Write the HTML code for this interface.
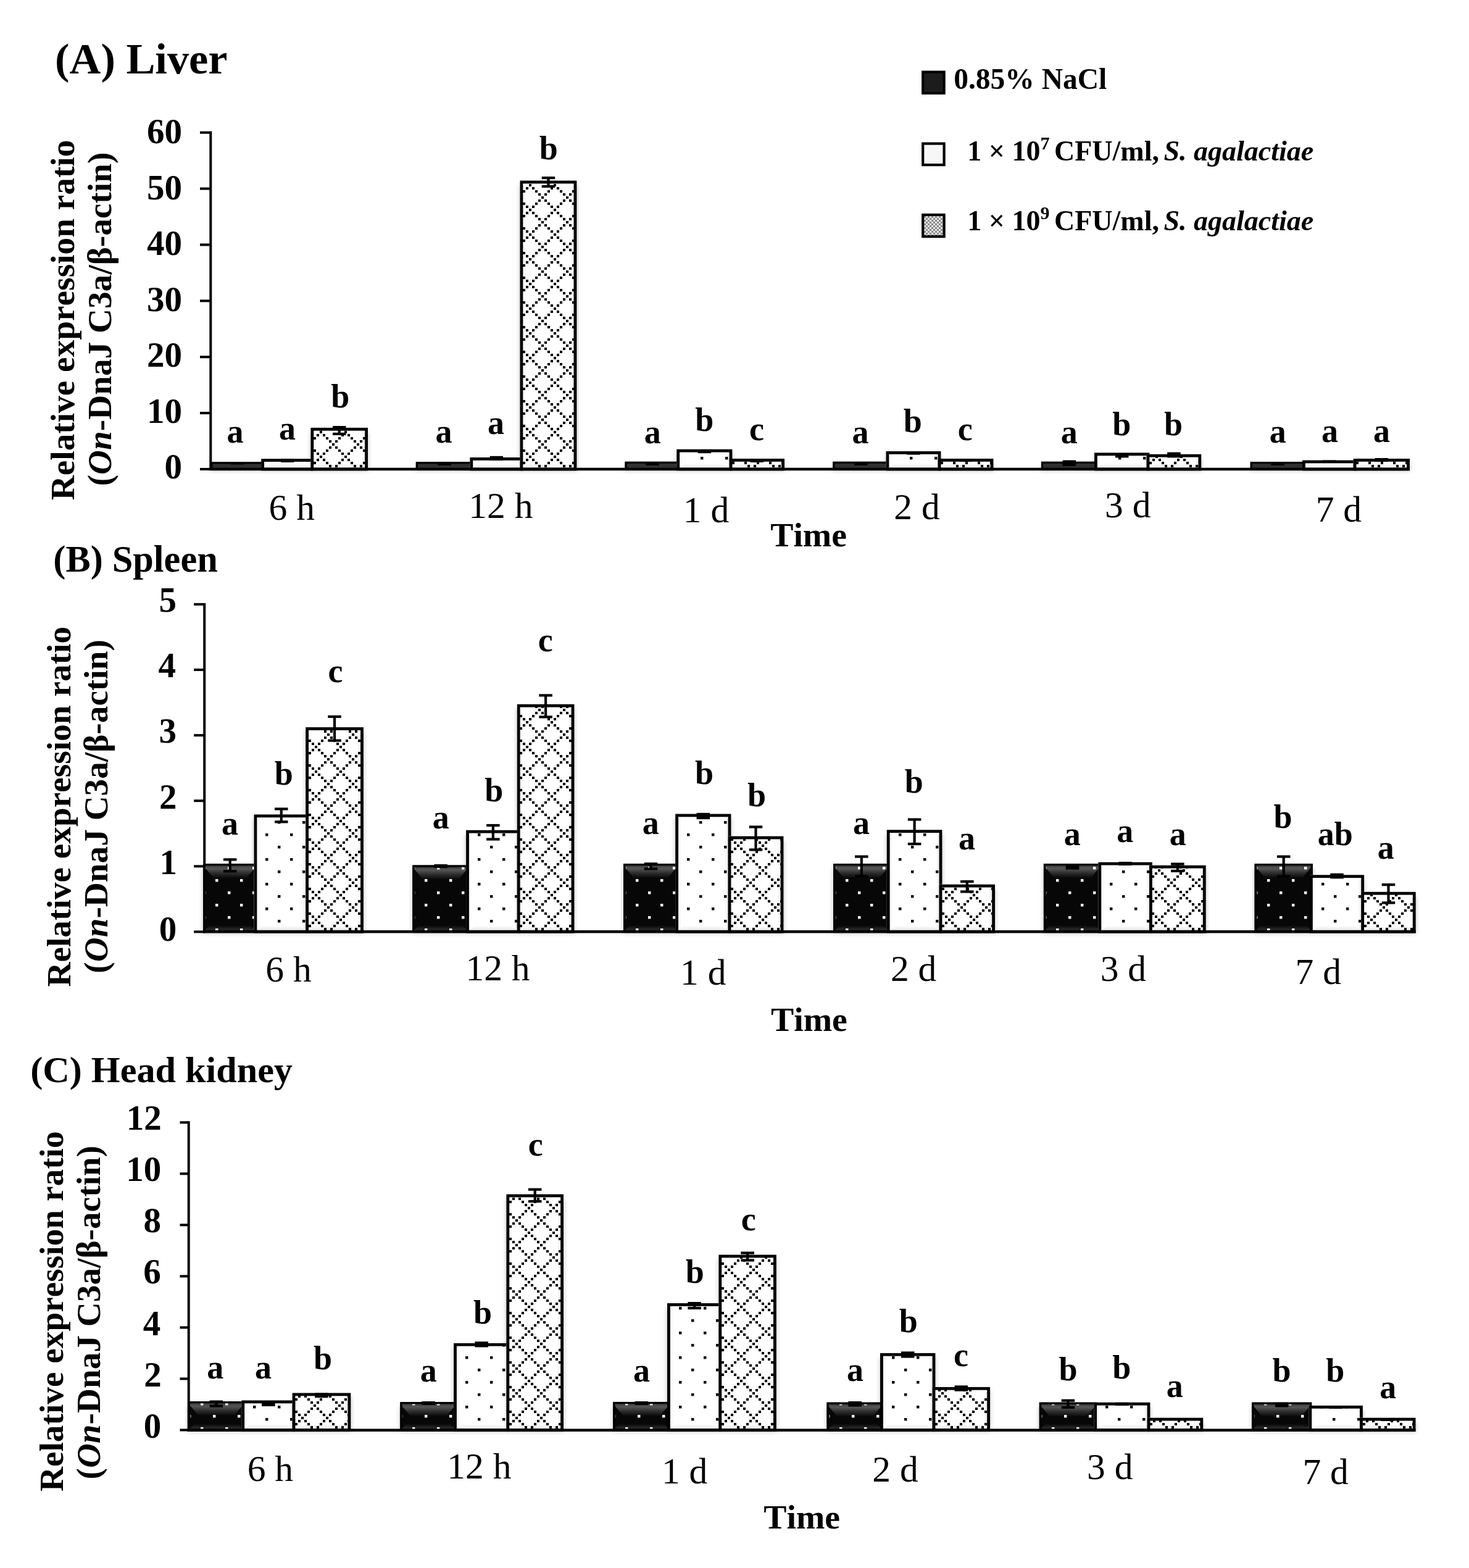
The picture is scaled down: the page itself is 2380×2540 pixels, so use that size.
<!DOCTYPE html>
<html><head><meta charset="utf-8"><title>Relative expression ratio of On-DnaJ C3a</title>
<style>html,body{margin:0;padding:0;background:#fff;}svg{display:block;}
text{font-family:'Liberation Serif','Times New Roman',serif;fill:#000;font-kerning:none;}</style></head>
<body><svg width="2380" height="2540" viewBox="0 0 2380 2540">
<defs><pattern id="p1" patternUnits="userSpaceOnUse" x="361" y="755" width="40" height="40"><rect x="0" y="0" width="4.4" height="4.4" fill="#fff"/><rect x="20" y="20" width="4.4" height="4.4" fill="#fff"/></pattern>
<pattern id="p2" patternUnits="userSpaceOnUse" x="442" y="760" width="40" height="40"><rect x="0" y="0" width="4.4" height="4.4" fill="#000"/><rect x="20" y="20" width="4.4" height="4.4" fill="#000"/></pattern>
<pattern id="p3" patternUnits="userSpaceOnUse" x="500" y="760" width="40" height="40"><path d="M33,33h4v4h-4zM33,3h4v4h-4zM-2,-2h4v4h-4zM-2,38h4v4h-4zM38,-2h4v4h-4zM38,38h4v4h-4zM-2,-2h4v4h-4zM-2,38h4v4h-4zM38,-2h4v4h-4zM38,38h4v4h-4zM3,3h4v4h-4zM3,33h4v4h-4zM8,8h4v4h-4zM8,28h4v4h-4zM13,13h4v4h-4zM13,23h4v4h-4zM18,18h4v4h-4zM23,13h4v4h-4zM23,23h4v4h-4zM28,8h4v4h-4zM28,28h4v4h-4zM33,3h4v4h-4zM33,33h4v4h-4zM-2,-2h4v4h-4zM-2,38h4v4h-4zM38,-2h4v4h-4zM38,38h4v4h-4zM-2,-2h4v4h-4zM-2,38h4v4h-4zM38,-2h4v4h-4zM38,38h4v4h-4zM3,33h4v4h-4zM3,3h4v4h-4z" fill="#000"/></pattern>
<pattern id="p4" patternUnits="userSpaceOnUse" x="694" y="755" width="40" height="40"><rect x="0" y="0" width="4.4" height="4.4" fill="#fff"/><rect x="20" y="20" width="4.4" height="4.4" fill="#fff"/></pattern>
<pattern id="p5" patternUnits="userSpaceOnUse" x="780" y="760" width="40" height="40"><rect x="0" y="0" width="4.4" height="4.4" fill="#000"/><rect x="20" y="20" width="4.4" height="4.4" fill="#000"/></pattern>
<pattern id="p6" patternUnits="userSpaceOnUse" x="839" y="760" width="40" height="40"><path d="M33,33h4v4h-4zM33,3h4v4h-4zM-2,-2h4v4h-4zM-2,38h4v4h-4zM38,-2h4v4h-4zM38,38h4v4h-4zM-2,-2h4v4h-4zM-2,38h4v4h-4zM38,-2h4v4h-4zM38,38h4v4h-4zM3,3h4v4h-4zM3,33h4v4h-4zM8,8h4v4h-4zM8,28h4v4h-4zM13,13h4v4h-4zM13,23h4v4h-4zM18,18h4v4h-4zM23,13h4v4h-4zM23,23h4v4h-4zM28,8h4v4h-4zM28,28h4v4h-4zM33,3h4v4h-4zM33,33h4v4h-4zM-2,-2h4v4h-4zM-2,38h4v4h-4zM38,-2h4v4h-4zM38,38h4v4h-4zM-2,-2h4v4h-4zM-2,38h4v4h-4zM38,-2h4v4h-4zM38,38h4v4h-4zM3,33h4v4h-4zM3,3h4v4h-4z" fill="#000"/></pattern>
<pattern id="p7" patternUnits="userSpaceOnUse" x="1032" y="755" width="40" height="40"><rect x="0" y="0" width="4.4" height="4.4" fill="#fff"/><rect x="20" y="20" width="4.4" height="4.4" fill="#fff"/></pattern>
<pattern id="p8" patternUnits="userSpaceOnUse" x="1115" y="760" width="40" height="40"><rect x="0" y="0" width="4.4" height="4.4" fill="#000"/><rect x="20" y="20" width="4.4" height="4.4" fill="#000"/></pattern>
<pattern id="p9" patternUnits="userSpaceOnUse" x="1178" y="760" width="40" height="40"><path d="M33,33h4v4h-4zM33,3h4v4h-4zM-2,-2h4v4h-4zM-2,38h4v4h-4zM38,-2h4v4h-4zM38,38h4v4h-4zM-2,-2h4v4h-4zM-2,38h4v4h-4zM38,-2h4v4h-4zM38,38h4v4h-4zM3,3h4v4h-4zM3,33h4v4h-4zM8,8h4v4h-4zM8,28h4v4h-4zM13,13h4v4h-4zM13,23h4v4h-4zM18,18h4v4h-4zM23,13h4v4h-4zM23,23h4v4h-4zM28,8h4v4h-4zM28,28h4v4h-4zM33,3h4v4h-4zM33,33h4v4h-4zM-2,-2h4v4h-4zM-2,38h4v4h-4zM38,-2h4v4h-4zM38,38h4v4h-4zM-2,-2h4v4h-4zM-2,38h4v4h-4zM38,-2h4v4h-4zM38,38h4v4h-4zM3,33h4v4h-4zM3,3h4v4h-4z" fill="#000"/></pattern>
<pattern id="p10" patternUnits="userSpaceOnUse" x="1369" y="755" width="40" height="40"><rect x="0" y="0" width="4.4" height="4.4" fill="#fff"/><rect x="20" y="20" width="4.4" height="4.4" fill="#fff"/></pattern>
<pattern id="p11" patternUnits="userSpaceOnUse" x="1454" y="760" width="40" height="40"><rect x="0" y="0" width="4.4" height="4.4" fill="#000"/><rect x="20" y="20" width="4.4" height="4.4" fill="#000"/></pattern>
<pattern id="p12" patternUnits="userSpaceOnUse" x="1516" y="760" width="40" height="40"><path d="M33,33h4v4h-4zM33,3h4v4h-4zM-2,-2h4v4h-4zM-2,38h4v4h-4zM38,-2h4v4h-4zM38,38h4v4h-4zM-2,-2h4v4h-4zM-2,38h4v4h-4zM38,-2h4v4h-4zM38,38h4v4h-4zM3,3h4v4h-4zM3,33h4v4h-4zM8,8h4v4h-4zM8,28h4v4h-4zM13,13h4v4h-4zM13,23h4v4h-4zM18,18h4v4h-4zM23,13h4v4h-4zM23,23h4v4h-4zM28,8h4v4h-4zM28,28h4v4h-4zM33,3h4v4h-4zM33,33h4v4h-4zM-2,-2h4v4h-4zM-2,38h4v4h-4zM38,-2h4v4h-4zM38,38h4v4h-4zM-2,-2h4v4h-4zM-2,38h4v4h-4zM38,-2h4v4h-4zM38,38h4v4h-4zM3,33h4v4h-4zM3,3h4v4h-4z" fill="#000"/></pattern>
<pattern id="p13" patternUnits="userSpaceOnUse" x="1707" y="755" width="40" height="40"><rect x="0" y="0" width="4.4" height="4.4" fill="#fff"/><rect x="20" y="20" width="4.4" height="4.4" fill="#fff"/></pattern>
<pattern id="p14" patternUnits="userSpaceOnUse" x="1792" y="760" width="40" height="40"><rect x="0" y="0" width="4.4" height="4.4" fill="#000"/><rect x="20" y="20" width="4.4" height="4.4" fill="#000"/></pattern>
<pattern id="p15" patternUnits="userSpaceOnUse" x="1854" y="760" width="40" height="40"><path d="M33,33h4v4h-4zM33,3h4v4h-4zM-2,-2h4v4h-4zM-2,38h4v4h-4zM38,-2h4v4h-4zM38,38h4v4h-4zM-2,-2h4v4h-4zM-2,38h4v4h-4zM38,-2h4v4h-4zM38,38h4v4h-4zM3,3h4v4h-4zM3,33h4v4h-4zM8,8h4v4h-4zM8,28h4v4h-4zM13,13h4v4h-4zM13,23h4v4h-4zM18,18h4v4h-4zM23,13h4v4h-4zM23,23h4v4h-4zM28,8h4v4h-4zM28,28h4v4h-4zM33,3h4v4h-4zM33,33h4v4h-4zM-2,-2h4v4h-4zM-2,38h4v4h-4zM38,-2h4v4h-4zM38,38h4v4h-4zM-2,-2h4v4h-4zM-2,38h4v4h-4zM38,-2h4v4h-4zM38,38h4v4h-4zM3,33h4v4h-4zM3,3h4v4h-4z" fill="#000"/></pattern>
<pattern id="p16" patternUnits="userSpaceOnUse" x="2046" y="755" width="40" height="40"><rect x="0" y="0" width="4.4" height="4.4" fill="#fff"/><rect x="20" y="20" width="4.4" height="4.4" fill="#fff"/></pattern>
<pattern id="p17" patternUnits="userSpaceOnUse" x="2129" y="760" width="40" height="40"><rect x="0" y="0" width="4.4" height="4.4" fill="#000"/><rect x="20" y="20" width="4.4" height="4.4" fill="#000"/></pattern>
<pattern id="p18" patternUnits="userSpaceOnUse" x="2189" y="760" width="40" height="40"><path d="M33,33h4v4h-4zM33,3h4v4h-4zM-2,-2h4v4h-4zM-2,38h4v4h-4zM38,-2h4v4h-4zM38,38h4v4h-4zM-2,-2h4v4h-4zM-2,38h4v4h-4zM38,-2h4v4h-4zM38,38h4v4h-4zM3,3h4v4h-4zM3,33h4v4h-4zM8,8h4v4h-4zM8,28h4v4h-4zM13,13h4v4h-4zM13,23h4v4h-4zM18,18h4v4h-4zM23,13h4v4h-4zM23,23h4v4h-4zM28,8h4v4h-4zM28,28h4v4h-4zM33,3h4v4h-4zM33,33h4v4h-4zM-2,-2h4v4h-4zM-2,38h4v4h-4zM38,-2h4v4h-4zM38,38h4v4h-4zM-2,-2h4v4h-4zM-2,38h4v4h-4zM38,-2h4v4h-4zM38,38h4v4h-4zM3,33h4v4h-4zM3,3h4v4h-4z" fill="#000"/></pattern>
<pattern id="p19" patternUnits="userSpaceOnUse" x="349" y="1504" width="40" height="40"><rect x="0" y="0" width="4.4" height="4.4" fill="#fff"/><rect x="20" y="20" width="4.4" height="4.4" fill="#fff"/></pattern>
<pattern id="p20" patternUnits="userSpaceOnUse" x="430" y="1510" width="40" height="40"><rect x="0" y="0" width="4.4" height="4.4" fill="#000"/><rect x="20" y="20" width="4.4" height="4.4" fill="#000"/></pattern>
<pattern id="p21" patternUnits="userSpaceOnUse" x="492" y="1510" width="40" height="40"><path d="M33,33h4v4h-4zM33,3h4v4h-4zM-2,-2h4v4h-4zM-2,38h4v4h-4zM38,-2h4v4h-4zM38,38h4v4h-4zM-2,-2h4v4h-4zM-2,38h4v4h-4zM38,-2h4v4h-4zM38,38h4v4h-4zM3,3h4v4h-4zM3,33h4v4h-4zM8,8h4v4h-4zM8,28h4v4h-4zM13,13h4v4h-4zM13,23h4v4h-4zM18,18h4v4h-4zM23,13h4v4h-4zM23,23h4v4h-4zM28,8h4v4h-4zM28,28h4v4h-4zM33,3h4v4h-4zM33,33h4v4h-4zM-2,-2h4v4h-4zM-2,38h4v4h-4zM38,-2h4v4h-4zM38,38h4v4h-4zM-2,-2h4v4h-4zM-2,38h4v4h-4zM38,-2h4v4h-4zM38,38h4v4h-4zM3,33h4v4h-4zM3,3h4v4h-4z" fill="#000"/></pattern>
<pattern id="p22" patternUnits="userSpaceOnUse" x="688" y="1504" width="40" height="40"><rect x="0" y="0" width="4.4" height="4.4" fill="#fff"/><rect x="20" y="20" width="4.4" height="4.4" fill="#fff"/></pattern>
<pattern id="p23" patternUnits="userSpaceOnUse" x="774" y="1510" width="40" height="40"><rect x="0" y="0" width="4.4" height="4.4" fill="#000"/><rect x="20" y="20" width="4.4" height="4.4" fill="#000"/></pattern>
<pattern id="p24" patternUnits="userSpaceOnUse" x="834" y="1510" width="40" height="40"><path d="M33,33h4v4h-4zM33,3h4v4h-4zM-2,-2h4v4h-4zM-2,38h4v4h-4zM38,-2h4v4h-4zM38,38h4v4h-4zM-2,-2h4v4h-4zM-2,38h4v4h-4zM38,-2h4v4h-4zM38,38h4v4h-4zM3,3h4v4h-4zM3,33h4v4h-4zM8,8h4v4h-4zM8,28h4v4h-4zM13,13h4v4h-4zM13,23h4v4h-4zM18,18h4v4h-4zM23,13h4v4h-4zM23,23h4v4h-4zM28,8h4v4h-4zM28,28h4v4h-4zM33,3h4v4h-4zM33,33h4v4h-4zM-2,-2h4v4h-4zM-2,38h4v4h-4zM38,-2h4v4h-4zM38,38h4v4h-4zM-2,-2h4v4h-4zM-2,38h4v4h-4zM38,-2h4v4h-4zM38,38h4v4h-4zM3,33h4v4h-4zM3,3h4v4h-4z" fill="#000"/></pattern>
<pattern id="p25" patternUnits="userSpaceOnUse" x="1030" y="1504" width="40" height="40"><rect x="0" y="0" width="4.4" height="4.4" fill="#fff"/><rect x="20" y="20" width="4.4" height="4.4" fill="#fff"/></pattern>
<pattern id="p26" patternUnits="userSpaceOnUse" x="1113" y="1510" width="40" height="40"><rect x="0" y="0" width="4.4" height="4.4" fill="#000"/><rect x="20" y="20" width="4.4" height="4.4" fill="#000"/></pattern>
<pattern id="p27" patternUnits="userSpaceOnUse" x="1176" y="1510" width="40" height="40"><path d="M33,33h4v4h-4zM33,3h4v4h-4zM-2,-2h4v4h-4zM-2,38h4v4h-4zM38,-2h4v4h-4zM38,38h4v4h-4zM-2,-2h4v4h-4zM-2,38h4v4h-4zM38,-2h4v4h-4zM38,38h4v4h-4zM3,3h4v4h-4zM3,33h4v4h-4zM8,8h4v4h-4zM8,28h4v4h-4zM13,13h4v4h-4zM13,23h4v4h-4zM18,18h4v4h-4zM23,13h4v4h-4zM23,23h4v4h-4zM28,8h4v4h-4zM28,28h4v4h-4zM33,3h4v4h-4zM33,33h4v4h-4zM-2,-2h4v4h-4zM-2,38h4v4h-4zM38,-2h4v4h-4zM38,38h4v4h-4zM-2,-2h4v4h-4zM-2,38h4v4h-4zM38,-2h4v4h-4zM38,38h4v4h-4zM3,33h4v4h-4zM3,3h4v4h-4z" fill="#000"/></pattern>
<pattern id="p28" patternUnits="userSpaceOnUse" x="1370" y="1504" width="40" height="40"><rect x="0" y="0" width="4.4" height="4.4" fill="#fff"/><rect x="20" y="20" width="4.4" height="4.4" fill="#fff"/></pattern>
<pattern id="p29" patternUnits="userSpaceOnUse" x="1456" y="1510" width="40" height="40"><rect x="0" y="0" width="4.4" height="4.4" fill="#000"/><rect x="20" y="20" width="4.4" height="4.4" fill="#000"/></pattern>
<pattern id="p30" patternUnits="userSpaceOnUse" x="1518" y="1510" width="40" height="40"><path d="M33,33h4v4h-4zM33,3h4v4h-4zM-2,-2h4v4h-4zM-2,38h4v4h-4zM38,-2h4v4h-4zM38,38h4v4h-4zM-2,-2h4v4h-4zM-2,38h4v4h-4zM38,-2h4v4h-4zM38,38h4v4h-4zM3,3h4v4h-4zM3,33h4v4h-4zM8,8h4v4h-4zM8,28h4v4h-4zM13,13h4v4h-4zM13,23h4v4h-4zM18,18h4v4h-4zM23,13h4v4h-4zM23,23h4v4h-4zM28,8h4v4h-4zM28,28h4v4h-4zM33,3h4v4h-4zM33,33h4v4h-4zM-2,-2h4v4h-4zM-2,38h4v4h-4zM38,-2h4v4h-4zM38,38h4v4h-4zM-2,-2h4v4h-4zM-2,38h4v4h-4zM38,-2h4v4h-4zM38,38h4v4h-4zM3,33h4v4h-4zM3,3h4v4h-4z" fill="#000"/></pattern>
<pattern id="p31" patternUnits="userSpaceOnUse" x="1711" y="1504" width="40" height="40"><rect x="0" y="0" width="4.4" height="4.4" fill="#fff"/><rect x="20" y="20" width="4.4" height="4.4" fill="#fff"/></pattern>
<pattern id="p32" patternUnits="userSpaceOnUse" x="1798" y="1510" width="40" height="40"><rect x="0" y="0" width="4.4" height="4.4" fill="#000"/><rect x="20" y="20" width="4.4" height="4.4" fill="#000"/></pattern>
<pattern id="p33" patternUnits="userSpaceOnUse" x="1858" y="1510" width="40" height="40"><path d="M33,33h4v4h-4zM33,3h4v4h-4zM-2,-2h4v4h-4zM-2,38h4v4h-4zM38,-2h4v4h-4zM38,38h4v4h-4zM-2,-2h4v4h-4zM-2,38h4v4h-4zM38,-2h4v4h-4zM38,38h4v4h-4zM3,3h4v4h-4zM3,33h4v4h-4zM8,8h4v4h-4zM8,28h4v4h-4zM13,13h4v4h-4zM13,23h4v4h-4zM18,18h4v4h-4zM23,13h4v4h-4zM23,23h4v4h-4zM28,8h4v4h-4zM28,28h4v4h-4zM33,3h4v4h-4zM33,33h4v4h-4zM-2,-2h4v4h-4zM-2,38h4v4h-4zM38,-2h4v4h-4zM38,38h4v4h-4zM-2,-2h4v4h-4zM-2,38h4v4h-4zM38,-2h4v4h-4zM38,38h4v4h-4zM3,33h4v4h-4zM3,3h4v4h-4z" fill="#000"/></pattern>
<pattern id="p34" patternUnits="userSpaceOnUse" x="2053" y="1504" width="40" height="40"><rect x="0" y="0" width="4.4" height="4.4" fill="#fff"/><rect x="20" y="20" width="4.4" height="4.4" fill="#fff"/></pattern>
<pattern id="p35" patternUnits="userSpaceOnUse" x="2141" y="1510" width="40" height="40"><rect x="0" y="0" width="4.4" height="4.4" fill="#000"/><rect x="20" y="20" width="4.4" height="4.4" fill="#000"/></pattern>
<pattern id="p36" patternUnits="userSpaceOnUse" x="2202" y="1510" width="40" height="40"><path d="M33,33h4v4h-4zM33,3h4v4h-4zM-2,-2h4v4h-4zM-2,38h4v4h-4zM38,-2h4v4h-4zM38,38h4v4h-4zM-2,-2h4v4h-4zM-2,38h4v4h-4zM38,-2h4v4h-4zM38,38h4v4h-4zM3,3h4v4h-4zM3,33h4v4h-4zM8,8h4v4h-4zM8,28h4v4h-4zM13,13h4v4h-4zM13,23h4v4h-4zM18,18h4v4h-4zM23,13h4v4h-4zM23,23h4v4h-4zM28,8h4v4h-4zM28,28h4v4h-4zM33,3h4v4h-4zM33,33h4v4h-4zM-2,-2h4v4h-4zM-2,38h4v4h-4zM38,-2h4v4h-4zM38,38h4v4h-4zM-2,-2h4v4h-4zM-2,38h4v4h-4zM38,-2h4v4h-4zM38,38h4v4h-4zM3,33h4v4h-4zM3,3h4v4h-4z" fill="#000"/></pattern>
<pattern id="p37" patternUnits="userSpaceOnUse" x="325" y="2312" width="40" height="40"><rect x="0" y="0" width="4.4" height="4.4" fill="#fff"/><rect x="20" y="20" width="4.4" height="4.4" fill="#fff"/></pattern>
<pattern id="p38" patternUnits="userSpaceOnUse" x="410" y="2317" width="40" height="40"><rect x="0" y="0" width="4.4" height="4.4" fill="#000"/><rect x="20" y="20" width="4.4" height="4.4" fill="#000"/></pattern>
<pattern id="p39" patternUnits="userSpaceOnUse" x="470" y="2317" width="40" height="40"><path d="M33,33h4v4h-4zM33,3h4v4h-4zM-2,-2h4v4h-4zM-2,38h4v4h-4zM38,-2h4v4h-4zM38,38h4v4h-4zM-2,-2h4v4h-4zM-2,38h4v4h-4zM38,-2h4v4h-4zM38,38h4v4h-4zM3,3h4v4h-4zM3,33h4v4h-4zM8,8h4v4h-4zM8,28h4v4h-4zM13,13h4v4h-4zM13,23h4v4h-4zM18,18h4v4h-4zM23,13h4v4h-4zM23,23h4v4h-4zM28,8h4v4h-4zM28,28h4v4h-4zM33,3h4v4h-4zM33,33h4v4h-4zM-2,-2h4v4h-4zM-2,38h4v4h-4zM38,-2h4v4h-4zM38,38h4v4h-4zM-2,-2h4v4h-4zM-2,38h4v4h-4zM38,-2h4v4h-4zM38,38h4v4h-4zM3,33h4v4h-4zM3,3h4v4h-4z" fill="#000"/></pattern>
<pattern id="p40" patternUnits="userSpaceOnUse" x="668" y="2312" width="40" height="40"><rect x="0" y="0" width="4.4" height="4.4" fill="#fff"/><rect x="20" y="20" width="4.4" height="4.4" fill="#fff"/></pattern>
<pattern id="p41" patternUnits="userSpaceOnUse" x="754" y="2317" width="40" height="40"><rect x="0" y="0" width="4.4" height="4.4" fill="#000"/><rect x="20" y="20" width="4.4" height="4.4" fill="#000"/></pattern>
<pattern id="p42" patternUnits="userSpaceOnUse" x="817" y="2317" width="40" height="40"><path d="M33,33h4v4h-4zM33,3h4v4h-4zM-2,-2h4v4h-4zM-2,38h4v4h-4zM38,-2h4v4h-4zM38,38h4v4h-4zM-2,-2h4v4h-4zM-2,38h4v4h-4zM38,-2h4v4h-4zM38,38h4v4h-4zM3,3h4v4h-4zM3,33h4v4h-4zM8,8h4v4h-4zM8,28h4v4h-4zM13,13h4v4h-4zM13,23h4v4h-4zM18,18h4v4h-4zM23,13h4v4h-4zM23,23h4v4h-4zM28,8h4v4h-4zM28,28h4v4h-4zM33,3h4v4h-4zM33,33h4v4h-4zM-2,-2h4v4h-4zM-2,38h4v4h-4zM38,-2h4v4h-4zM38,38h4v4h-4zM-2,-2h4v4h-4zM-2,38h4v4h-4zM38,-2h4v4h-4zM38,38h4v4h-4zM3,33h4v4h-4zM3,3h4v4h-4z" fill="#000"/></pattern>
<pattern id="p43" patternUnits="userSpaceOnUse" x="1013" y="2312" width="40" height="40"><rect x="0" y="0" width="4.4" height="4.4" fill="#fff"/><rect x="20" y="20" width="4.4" height="4.4" fill="#fff"/></pattern>
<pattern id="p44" patternUnits="userSpaceOnUse" x="1100" y="2317" width="40" height="40"><rect x="0" y="0" width="4.4" height="4.4" fill="#000"/><rect x="20" y="20" width="4.4" height="4.4" fill="#000"/></pattern>
<pattern id="p45" patternUnits="userSpaceOnUse" x="1161" y="2317" width="40" height="40"><path d="M33,33h4v4h-4zM33,3h4v4h-4zM-2,-2h4v4h-4zM-2,38h4v4h-4zM38,-2h4v4h-4zM38,38h4v4h-4zM-2,-2h4v4h-4zM-2,38h4v4h-4zM38,-2h4v4h-4zM38,38h4v4h-4zM3,3h4v4h-4zM3,33h4v4h-4zM8,8h4v4h-4zM8,28h4v4h-4zM13,13h4v4h-4zM13,23h4v4h-4zM18,18h4v4h-4zM23,13h4v4h-4zM23,23h4v4h-4zM28,8h4v4h-4zM28,28h4v4h-4zM33,3h4v4h-4zM33,33h4v4h-4zM-2,-2h4v4h-4zM-2,38h4v4h-4zM38,-2h4v4h-4zM38,38h4v4h-4zM-2,-2h4v4h-4zM-2,38h4v4h-4zM38,-2h4v4h-4zM38,38h4v4h-4zM3,33h4v4h-4zM3,3h4v4h-4z" fill="#000"/></pattern>
<pattern id="p46" patternUnits="userSpaceOnUse" x="1360" y="2312" width="40" height="40"><rect x="0" y="0" width="4.4" height="4.4" fill="#fff"/><rect x="20" y="20" width="4.4" height="4.4" fill="#fff"/></pattern>
<pattern id="p47" patternUnits="userSpaceOnUse" x="1445" y="2317" width="40" height="40"><rect x="0" y="0" width="4.4" height="4.4" fill="#000"/><rect x="20" y="20" width="4.4" height="4.4" fill="#000"/></pattern>
<pattern id="p48" patternUnits="userSpaceOnUse" x="1507" y="2317" width="40" height="40"><path d="M33,33h4v4h-4zM33,3h4v4h-4zM-2,-2h4v4h-4zM-2,38h4v4h-4zM38,-2h4v4h-4zM38,38h4v4h-4zM-2,-2h4v4h-4zM-2,38h4v4h-4zM38,-2h4v4h-4zM38,38h4v4h-4zM3,3h4v4h-4zM3,33h4v4h-4zM8,8h4v4h-4zM8,28h4v4h-4zM13,13h4v4h-4zM13,23h4v4h-4zM18,18h4v4h-4zM23,13h4v4h-4zM23,23h4v4h-4zM28,8h4v4h-4zM28,28h4v4h-4zM33,3h4v4h-4zM33,33h4v4h-4zM-2,-2h4v4h-4zM-2,38h4v4h-4zM38,-2h4v4h-4zM38,38h4v4h-4zM-2,-2h4v4h-4zM-2,38h4v4h-4zM38,-2h4v4h-4zM38,38h4v4h-4zM3,33h4v4h-4zM3,3h4v4h-4z" fill="#000"/></pattern>
<pattern id="p49" patternUnits="userSpaceOnUse" x="1704" y="2312" width="40" height="40"><rect x="0" y="0" width="4.4" height="4.4" fill="#fff"/><rect x="20" y="20" width="4.4" height="4.4" fill="#fff"/></pattern>
<pattern id="p50" patternUnits="userSpaceOnUse" x="1791" y="2317" width="40" height="40"><rect x="0" y="0" width="4.4" height="4.4" fill="#000"/><rect x="20" y="20" width="4.4" height="4.4" fill="#000"/></pattern>
<pattern id="p51" patternUnits="userSpaceOnUse" x="1855" y="2317" width="40" height="40"><path d="M33,33h4v4h-4zM33,3h4v4h-4zM-2,-2h4v4h-4zM-2,38h4v4h-4zM38,-2h4v4h-4zM38,38h4v4h-4zM-2,-2h4v4h-4zM-2,38h4v4h-4zM38,-2h4v4h-4zM38,38h4v4h-4zM3,3h4v4h-4zM3,33h4v4h-4zM8,8h4v4h-4zM8,28h4v4h-4zM13,13h4v4h-4zM13,23h4v4h-4zM18,18h4v4h-4zM23,13h4v4h-4zM23,23h4v4h-4zM28,8h4v4h-4zM28,28h4v4h-4zM33,3h4v4h-4zM33,33h4v4h-4zM-2,-2h4v4h-4zM-2,38h4v4h-4zM38,-2h4v4h-4zM38,38h4v4h-4zM-2,-2h4v4h-4zM-2,38h4v4h-4zM38,-2h4v4h-4zM38,38h4v4h-4zM3,33h4v4h-4zM3,3h4v4h-4z" fill="#000"/></pattern>
<pattern id="p52" patternUnits="userSpaceOnUse" x="2048" y="2312" width="40" height="40"><rect x="0" y="0" width="4.4" height="4.4" fill="#fff"/><rect x="20" y="20" width="4.4" height="4.4" fill="#fff"/></pattern>
<pattern id="p53" patternUnits="userSpaceOnUse" x="2139" y="2317" width="40" height="40"><rect x="0" y="0" width="4.4" height="4.4" fill="#000"/><rect x="20" y="20" width="4.4" height="4.4" fill="#000"/></pattern>
<pattern id="p54" patternUnits="userSpaceOnUse" x="2200" y="2317" width="40" height="40"><path d="M33,33h4v4h-4zM33,3h4v4h-4zM-2,-2h4v4h-4zM-2,38h4v4h-4zM38,-2h4v4h-4zM38,38h4v4h-4zM-2,-2h4v4h-4zM-2,38h4v4h-4zM38,-2h4v4h-4zM38,38h4v4h-4zM3,3h4v4h-4zM3,33h4v4h-4zM8,8h4v4h-4zM8,28h4v4h-4zM13,13h4v4h-4zM13,23h4v4h-4zM18,18h4v4h-4zM23,13h4v4h-4zM23,23h4v4h-4zM28,8h4v4h-4zM28,28h4v4h-4zM33,3h4v4h-4zM33,33h4v4h-4zM-2,-2h4v4h-4zM-2,38h4v4h-4zM38,-2h4v4h-4zM38,38h4v4h-4zM-2,-2h4v4h-4zM-2,38h4v4h-4zM38,-2h4v4h-4zM38,38h4v4h-4zM3,33h4v4h-4zM3,3h4v4h-4z" fill="#000"/></pattern>
<pattern id="lg3" patternUnits="userSpaceOnUse" x="1497" y="350" width="6" height="6"><rect width="6" height="6" fill="#e6e6e6"/><rect width="3" height="3" fill="#8a8a8a"/><rect x="3" y="3" width="3" height="3" fill="#8a8a8a"/></pattern>
<linearGradient id="bev" x1="0" y1="0" x2="0" y2="1"><stop offset="0" stop-color="#3a3a3a"/><stop offset="0.25" stop-color="#565656"/><stop offset="0.6" stop-color="#2e2e2e"/><stop offset="1" stop-color="#080808"/></linearGradient>
<linearGradient id="ishb" x1="0" y1="0" x2="0" y2="1"><stop offset="0" stop-color="#000" stop-opacity="0"/><stop offset="1" stop-color="#000" stop-opacity="0.11"/></linearGradient>
<linearGradient id="ishr" x1="0" y1="0" x2="1" y2="0"><stop offset="0" stop-color="#000" stop-opacity="0"/><stop offset="1" stop-color="#000" stop-opacity="0.09"/></linearGradient>
<linearGradient id="ishl" x1="0" y1="0" x2="1" y2="0"><stop offset="0" stop-color="#000" stop-opacity="0.05"/><stop offset="1" stop-color="#000" stop-opacity="0"/></linearGradient>
<filter id="shf" x="-5%" y="-5%" width="110%" height="110%"><feGaussianBlur stdDeviation="3.2"/></filter>
<linearGradient id="bevb" x1="0" y1="0" x2="0" y2="1"><stop offset="0" stop-color="#080808"/><stop offset="0.6" stop-color="#262626"/><stop offset="1" stop-color="#1a1a1a"/></linearGradient></defs>
<rect width="2380" height="2540" fill="#fff"/>
<g filter="url(#shf)" opacity="0.2">
<rect x="340.3" y="755.5" width="88.7" height="7.5" fill="#000"/>
<rect x="422.2" y="750.2" width="87" height="12.8" fill="#000"/>
<rect x="502.4" y="699.9" width="94.6" height="63.1" fill="#000"/>
<rect x="672.8" y="755.4" width="94.4" height="7.6" fill="#000"/>
<rect x="760.4" y="748" width="87.9" height="15" fill="#000"/>
<rect x="841.5" y="299.6" width="93.9" height="463.4" fill="#000"/>
<rect x="1011.5" y="754.9" width="90.6" height="8.1" fill="#000"/>
<rect x="1095.3" y="734.8" width="92.1" height="28.2" fill="#000"/>
<rect x="1180.6" y="750" width="91.4" height="13" fill="#000"/>
<rect x="1348.3" y="754.9" width="93" height="8.1" fill="#000"/>
<rect x="1434.5" y="738" width="90.9" height="25" fill="#000"/>
<rect x="1518.6" y="750" width="91.8" height="13" fill="#000"/>
<rect x="1685.9" y="754.9" width="92.9" height="8.1" fill="#000"/>
<rect x="1772" y="740.4" width="91.4" height="22.6" fill="#000"/>
<rect x="1856.6" y="742.8" width="90.6" height="20.2" fill="#000"/>
<rect x="2024.7" y="755.2" width="91.1" height="7.8" fill="#000"/>
<rect x="2109" y="752.6" width="89.4" height="10.4" fill="#000"/>
<rect x="2191.6" y="750" width="93.4" height="13" fill="#000"/>
</g>
<rect x="341.3" y="748.5" width="86.7" height="11.5" fill="#303030"/>
<clipPath id="c1"><rect x="341.3" y="748.5" width="86.7" height="11.5"/></clipPath>
<g clip-path="url(#c1)">
</g>
<rect x="342.9" y="749.9" width="83.5" height="10.1" fill="none" stroke="#000" stroke-width="3.2"/>
<rect x="423.2" y="743.2" width="85" height="16.8" fill="#fff"/>
<rect x="426.2" y="746.2" width="79" height="13.8" fill="url(#p2)"/>
<polygon points="437.2,750 494.2,750 504.2,760 427.2,760" fill="url(#ishb)"/><rect x="498.2" y="751.2" width="6" height="8.8" fill="url(#ishr)"/><rect x="427.7" y="751.2" width="5" height="8.8" fill="url(#ishl)"/>
<rect x="425.6" y="745.6" width="80.2" height="14.4" fill="none" stroke="#000" stroke-width="4.8"/>
<rect x="503.4" y="692.9" width="92.6" height="67.1" fill="#fff"/>
<rect x="506.4" y="695.9" width="86.6" height="64.1" fill="url(#p3)"/>
<polygon points="517.4,750 582,750 592,760 507.4,760" fill="url(#ishb)"/><rect x="586" y="700.9" width="6" height="59.1" fill="url(#ishr)"/><rect x="507.9" y="700.9" width="5" height="59.1" fill="url(#ishl)"/>
<rect x="505.8" y="695.3" width="87.8" height="64.7" fill="none" stroke="#000" stroke-width="4.8"/>
<rect x="673.8" y="748.4" width="92.4" height="11.6" fill="#303030"/>
<clipPath id="c4"><rect x="673.8" y="748.4" width="92.4" height="11.6"/></clipPath>
<g clip-path="url(#c4)">
</g>
<rect x="675.4" y="749.8" width="89.2" height="10.2" fill="none" stroke="#000" stroke-width="3.2"/>
<rect x="761.4" y="741" width="85.9" height="19" fill="#fff"/>
<rect x="764.4" y="744" width="79.9" height="16" fill="url(#p5)"/>
<polygon points="775.4,750 833.3,750 843.3,760 765.4,760" fill="url(#ishb)"/><rect x="837.3" y="749" width="6" height="11" fill="url(#ishr)"/><rect x="765.9" y="749" width="5" height="11" fill="url(#ishl)"/>
<rect x="763.8" y="743.4" width="81.1" height="16.6" fill="none" stroke="#000" stroke-width="4.8"/>
<rect x="842.5" y="292.6" width="91.9" height="467.4" fill="#fff"/>
<rect x="845.5" y="295.6" width="85.9" height="464.4" fill="url(#p6)"/>
<polygon points="856.5,750 920.4,750 930.4,760 846.5,760" fill="url(#ishb)"/><rect x="924.4" y="300.6" width="6" height="459.4" fill="url(#ishr)"/><rect x="847" y="300.6" width="5" height="459.4" fill="url(#ishl)"/>
<rect x="844.9" y="295" width="87.1" height="465" fill="none" stroke="#000" stroke-width="4.8"/>
<rect x="1012.5" y="747.9" width="88.6" height="12.1" fill="#303030"/>
<clipPath id="c7"><rect x="1012.5" y="747.9" width="88.6" height="12.1"/></clipPath>
<g clip-path="url(#c7)">
</g>
<rect x="1014.1" y="749.3" width="85.4" height="10.7" fill="none" stroke="#000" stroke-width="3.2"/>
<rect x="1096.3" y="727.8" width="90.1" height="32.2" fill="#fff"/>
<rect x="1099.3" y="730.8" width="84.1" height="29.2" fill="url(#p8)"/>
<polygon points="1110.3,750 1172.4,750 1182.4,760 1100.3,760" fill="url(#ishb)"/><rect x="1176.4" y="735.8" width="6" height="24.2" fill="url(#ishr)"/><rect x="1100.8" y="735.8" width="5" height="24.2" fill="url(#ishl)"/>
<rect x="1098.7" y="730.2" width="85.3" height="29.8" fill="none" stroke="#000" stroke-width="4.8"/>
<rect x="1181.6" y="743" width="89.4" height="17" fill="#fff"/>
<rect x="1184.6" y="746" width="83.4" height="14" fill="url(#p9)"/>
<polygon points="1195.6,750 1257,750 1267,760 1185.6,760" fill="url(#ishb)"/><rect x="1261" y="751" width="6" height="9" fill="url(#ishr)"/><rect x="1186.1" y="751" width="5" height="9" fill="url(#ishl)"/>
<rect x="1184" y="745.4" width="84.6" height="14.6" fill="none" stroke="#000" stroke-width="4.8"/>
<rect x="1349.3" y="747.9" width="91" height="12.1" fill="#303030"/>
<clipPath id="c10"><rect x="1349.3" y="747.9" width="91" height="12.1"/></clipPath>
<g clip-path="url(#c10)">
</g>
<rect x="1350.9" y="749.3" width="87.8" height="10.7" fill="none" stroke="#000" stroke-width="3.2"/>
<rect x="1435.5" y="731" width="88.9" height="29" fill="#fff"/>
<rect x="1438.5" y="734" width="82.9" height="26" fill="url(#p11)"/>
<polygon points="1449.5,750 1510.4,750 1520.4,760 1439.5,760" fill="url(#ishb)"/><rect x="1514.4" y="739" width="6" height="21" fill="url(#ishr)"/><rect x="1440" y="739" width="5" height="21" fill="url(#ishl)"/>
<rect x="1437.9" y="733.4" width="84.1" height="26.6" fill="none" stroke="#000" stroke-width="4.8"/>
<rect x="1519.6" y="743" width="89.8" height="17" fill="#fff"/>
<rect x="1522.6" y="746" width="83.8" height="14" fill="url(#p12)"/>
<polygon points="1533.6,750 1595.4,750 1605.4,760 1523.6,760" fill="url(#ishb)"/><rect x="1599.4" y="751" width="6" height="9" fill="url(#ishr)"/><rect x="1524.1" y="751" width="5" height="9" fill="url(#ishl)"/>
<rect x="1522" y="745.4" width="85" height="14.6" fill="none" stroke="#000" stroke-width="4.8"/>
<rect x="1686.9" y="747.9" width="90.9" height="12.1" fill="#303030"/>
<clipPath id="c13"><rect x="1686.9" y="747.9" width="90.9" height="12.1"/></clipPath>
<g clip-path="url(#c13)">
</g>
<rect x="1688.5" y="749.3" width="87.7" height="10.7" fill="none" stroke="#000" stroke-width="3.2"/>
<rect x="1773" y="733.4" width="89.4" height="26.6" fill="#fff"/>
<rect x="1776" y="736.4" width="83.4" height="23.6" fill="url(#p14)"/>
<polygon points="1787,750 1848.4,750 1858.4,760 1777,760" fill="url(#ishb)"/><rect x="1852.4" y="741.4" width="6" height="18.6" fill="url(#ishr)"/><rect x="1777.5" y="741.4" width="5" height="18.6" fill="url(#ishl)"/>
<rect x="1775.4" y="735.8" width="84.6" height="24.2" fill="none" stroke="#000" stroke-width="4.8"/>
<rect x="1857.6" y="735.8" width="88.6" height="24.2" fill="#fff"/>
<rect x="1860.6" y="738.8" width="82.6" height="21.2" fill="url(#p15)"/>
<polygon points="1871.6,750 1932.2,750 1942.2,760 1861.6,760" fill="url(#ishb)"/><rect x="1936.2" y="743.8" width="6" height="16.2" fill="url(#ishr)"/><rect x="1862.1" y="743.8" width="5" height="16.2" fill="url(#ishl)"/>
<rect x="1860" y="738.2" width="83.8" height="21.8" fill="none" stroke="#000" stroke-width="4.8"/>
<rect x="2025.7" y="748.2" width="89.1" height="11.8" fill="#303030"/>
<clipPath id="c16"><rect x="2025.7" y="748.2" width="89.1" height="11.8"/></clipPath>
<g clip-path="url(#c16)">
</g>
<rect x="2027.3" y="749.6" width="85.9" height="10.4" fill="none" stroke="#000" stroke-width="3.2"/>
<rect x="2110" y="745.6" width="87.4" height="14.4" fill="#fff"/>
<rect x="2113" y="748.6" width="81.4" height="11.4" fill="url(#p17)"/>
<polygon points="2122.4,751.6 2185,751.6 2193.4,760 2114,760" fill="url(#ishb)"/><rect x="2187.4" y="753.6" width="6" height="6.4" fill="url(#ishr)"/><rect x="2114.5" y="753.6" width="5" height="6.4" fill="url(#ishl)"/>
<rect x="2112.4" y="748" width="82.6" height="12" fill="none" stroke="#000" stroke-width="4.8"/>
<rect x="2192.6" y="743" width="91.4" height="17" fill="#fff"/>
<rect x="2195.6" y="746" width="85.4" height="14" fill="url(#p18)"/>
<polygon points="2206.6,750 2270,750 2280,760 2196.6,760" fill="url(#ishb)"/><rect x="2274" y="751" width="6" height="9" fill="url(#ishr)"/><rect x="2197.1" y="751" width="5" height="9" fill="url(#ishl)"/>
<rect x="2195" y="745.4" width="86.6" height="14.6" fill="none" stroke="#000" stroke-width="4.8"/>
<rect x="373.9" y="750.5" width="21.5" height="2" fill="#000"/>
<rect x="454.95" y="743.5" width="21.5" height="5.5" fill="#000"/>
<line x1="549.7" y1="692.1" x2="549.7" y2="702.9" stroke="#000" stroke-width="4.2"/>
<line x1="538.95" y1="692.1" x2="560.45" y2="692.1" stroke="#000" stroke-width="4.2"/>
<line x1="538.95" y1="702.9" x2="560.45" y2="702.9" stroke="#000" stroke-width="4.2"/>
<rect x="709.25" y="748" width="21.5" height="6" fill="#000"/>
<rect x="793.6" y="738.8" width="21.5" height="7.2" fill="#000"/>
<line x1="888.45" y1="288.1" x2="888.45" y2="301.9" stroke="#000" stroke-width="4.2"/>
<line x1="877.7" y1="288.1" x2="899.2" y2="288.1" stroke="#000" stroke-width="4.2"/>
<line x1="877.7" y1="301.9" x2="899.2" y2="301.9" stroke="#000" stroke-width="4.2"/>
<rect x="1046.05" y="748" width="21.5" height="6" fill="#000"/>
<rect x="1130.6" y="728.6" width="21.5" height="5.6" fill="#000"/>
<rect x="1215.55" y="743" width="21.5" height="6" fill="#000"/>
<rect x="1384.05" y="748" width="21.5" height="6" fill="#000"/>
<rect x="1469.2" y="731" width="21.5" height="5.6" fill="#000"/>
<rect x="1553.75" y="743" width="21.5" height="5" fill="#000"/>
<line x1="1732.35" y1="747.6" x2="1732.35" y2="752.9" stroke="#000" stroke-width="4.2"/>
<line x1="1721.6" y1="747.6" x2="1743.1" y2="747.6" stroke="#000" stroke-width="4.2"/>
<line x1="1721.6" y1="752.9" x2="1743.1" y2="752.9" stroke="#000" stroke-width="4.2"/>
<rect x="1806.95" y="736.6" width="21.5" height="4.8" fill="#000"/>
<line x1="1901.9" y1="734.7" x2="1901.9" y2="739.3" stroke="#000" stroke-width="4.2"/>
<line x1="1891.15" y1="734.7" x2="1912.65" y2="734.7" stroke="#000" stroke-width="4.2"/>
<line x1="1891.15" y1="739.3" x2="1912.65" y2="739.3" stroke="#000" stroke-width="4.2"/>
<rect x="2059.5" y="748" width="21.5" height="6" fill="#000"/>
<rect x="2142.95" y="745.5" width="21.5" height="4.5" fill="#000"/>
<rect x="2227.55" y="742" width="21.5" height="6" fill="#000"/>
<line x1="341.3" y1="212.72" x2="341.3" y2="762" stroke="#000" stroke-width="4"/>
<line x1="339.3" y1="760" x2="2284" y2="760" stroke="#000" stroke-width="4.4"/>
<line x1="324" y1="760" x2="341.3" y2="760" stroke="#000" stroke-width="4"/>
<text x="266.47" y="775.2" font-size="57" font-weight="bold">0</text>
<line x1="324" y1="669.12" x2="341.3" y2="669.12" stroke="#000" stroke-width="4"/>
<text x="237.97" y="684.7" font-size="57" font-weight="bold">10</text>
<line x1="324" y1="578.24" x2="341.3" y2="578.24" stroke="#000" stroke-width="4"/>
<text x="237.97" y="594.2" font-size="57" font-weight="bold">20</text>
<line x1="324" y1="487.36" x2="341.3" y2="487.36" stroke="#000" stroke-width="4"/>
<text x="237.97" y="503.7" font-size="57" font-weight="bold">30</text>
<line x1="324" y1="396.48" x2="341.3" y2="396.48" stroke="#000" stroke-width="4"/>
<text x="237.97" y="413.2" font-size="57" font-weight="bold">40</text>
<line x1="324" y1="305.6" x2="341.3" y2="305.6" stroke="#000" stroke-width="4"/>
<text x="237.97" y="322.7" font-size="57" font-weight="bold">50</text>
<line x1="324" y1="214.72" x2="341.3" y2="214.72" stroke="#000" stroke-width="4"/>
<text x="237.97" y="232.2" font-size="57" font-weight="bold">60</text>
<text x="367.54" y="717.2" font-size="54" font-weight="bold">a</text>
<text x="452.04" y="711.9" font-size="54" font-weight="bold">a</text>
<text x="536.24" y="660.1" font-size="54" font-weight="bold">b</text>
<text x="705.54" y="716.8" font-size="54" font-weight="bold">a</text>
<text x="790.04" y="702.8" font-size="54" font-weight="bold">a</text>
<text x="873.74" y="257.5" font-size="54" font-weight="bold">b</text>
<text x="1043.64" y="717.6" font-size="54" font-weight="bold">a</text>
<text x="1126.34" y="697.5" font-size="54" font-weight="bold">b</text>
<text x="1214.07" y="712.8" font-size="54" font-weight="bold">c</text>
<text x="1380.44" y="717.5" font-size="54" font-weight="bold">a</text>
<text x="1463.74" y="699.9" font-size="54" font-weight="bold">b</text>
<text x="1551.77" y="712.8" font-size="54" font-weight="bold">c</text>
<text x="1718.84" y="717.5" font-size="54" font-weight="bold">a</text>
<text x="1802.24" y="704.7" font-size="54" font-weight="bold">b</text>
<text x="1886.04" y="704.7" font-size="54" font-weight="bold">b</text>
<text x="2056.84" y="716.8" font-size="54" font-weight="bold">a</text>
<text x="2141.04" y="715.5" font-size="54" font-weight="bold">a</text>
<text x="2225.04" y="715.5" font-size="54" font-weight="bold">a</text>
<text x="435.53" y="841.5" font-size="59.5" font-weight="normal">6 h</text>
<text x="759.26" y="838.6" font-size="59.5" font-weight="normal">12 h</text>
<text x="1106.86" y="846.3" font-size="59.5" font-weight="normal">1 d</text>
<text x="1448.27" y="840.9" font-size="59.5" font-weight="normal">2 d</text>
<text x="1790" y="837.9" font-size="59.5" font-weight="normal">3 d</text>
<text x="2131.71" y="845" font-size="59.5" font-weight="normal">7 d</text>
<text x="1248.26" y="885.2" font-size="55.7" font-weight="bold">Time</text>
<text x="89.11" y="119" font-size="70.4" font-weight="bold" font-style="normal">(A) Liver</text>
<text transform="translate(119.8,810.2) rotate(-90)" x="0" y="0" font-size="55.3" font-weight="bold">Relative expression ratio</text>
<text transform="translate(180.3,787.3) rotate(-90)" x="0" y="0" font-size="55.3" font-weight="bold">(<tspan font-style="italic">On</tspan>-DnaJ C3a/β-actin)</text>
<g filter="url(#shf)" opacity="0.2">
<rect x="328.1" y="1406.3" width="89.2" height="105.9" fill="#000"/>
<rect x="410.5" y="1326.4" width="90.5" height="185.8" fill="#000"/>
<rect x="494.2" y="1185.1" width="95.7" height="327.1" fill="#000"/>
<rect x="667.3" y="1408.6" width="93.6" height="103.6" fill="#000"/>
<rect x="754.1" y="1351.8" width="89.5" height="160.4" fill="#000"/>
<rect x="836.8" y="1147.8" width="94.6" height="364.4" fill="#000"/>
<rect x="1009" y="1406.2" width="91" height="106" fill="#000"/>
<rect x="1093.2" y="1325.5" width="92.2" height="186.7" fill="#000"/>
<rect x="1178.6" y="1361.6" width="91.8" height="150.6" fill="#000"/>
<rect x="1349" y="1406.2" width="93.6" height="106" fill="#000"/>
<rect x="1435.8" y="1351.3" width="91.6" height="160.9" fill="#000"/>
<rect x="1520.6" y="1439.7" width="92.4" height="72.5" fill="#000"/>
<rect x="1689.9" y="1406.2" width="95.3" height="106" fill="#000"/>
<rect x="1778.4" y="1403.7" width="89.4" height="108.5" fill="#000"/>
<rect x="1861" y="1408.8" width="93.7" height="103.4" fill="#000"/>
<rect x="2031.6" y="1406.2" width="96.2" height="106" fill="#000"/>
<rect x="2121" y="1424.3" width="90.05" height="87.9" fill="#000"/>
<rect x="2204.25" y="1451.8" width="90.45" height="60.4" fill="#000"/>
</g>
<rect x="329.1" y="1399.3" width="87.2" height="109.9" fill="#070707"/>
<clipPath id="c19"><rect x="329.1" y="1399.3" width="87.2" height="109.9"/></clipPath>
<g clip-path="url(#c19)">
<polygon points="329.1,1401.9 416.3,1401.9 399.3,1422.3 346.1,1422.3" fill="url(#bev)"/>
<polygon points="339.1,1499.2 406.3,1499.2 416.3,1509.2 329.1,1509.2" fill="url(#bevb)"/>
<rect x="333.1" y="1402.3" width="79.2" height="106.9" fill="url(#p19)"/>
</g>
<rect x="330.7" y="1400.7" width="84" height="108.5" fill="none" stroke="#000" stroke-width="3.2"/>
<rect x="411.5" y="1319.4" width="88.5" height="189.8" fill="#fff"/>
<rect x="414.5" y="1322.4" width="82.5" height="186.8" fill="url(#p20)"/>
<polygon points="425.5,1499.2 486,1499.2 496,1509.2 415.5,1509.2" fill="url(#ishb)"/><rect x="490" y="1327.4" width="6" height="181.8" fill="url(#ishr)"/><rect x="416" y="1327.4" width="5" height="181.8" fill="url(#ishl)"/>
<rect x="413.9" y="1321.8" width="83.7" height="187.4" fill="none" stroke="#000" stroke-width="4.8"/>
<rect x="495.2" y="1178.1" width="93.7" height="331.1" fill="#fff"/>
<rect x="498.2" y="1181.1" width="87.7" height="328.1" fill="url(#p21)"/>
<polygon points="509.2,1499.2 574.9,1499.2 584.9,1509.2 499.2,1509.2" fill="url(#ishb)"/><rect x="578.9" y="1186.1" width="6" height="323.1" fill="url(#ishr)"/><rect x="499.7" y="1186.1" width="5" height="323.1" fill="url(#ishl)"/>
<rect x="497.6" y="1180.5" width="88.9" height="328.7" fill="none" stroke="#000" stroke-width="4.8"/>
<rect x="668.3" y="1401.6" width="91.6" height="107.6" fill="#070707"/>
<clipPath id="c22"><rect x="668.3" y="1401.6" width="91.6" height="107.6"/></clipPath>
<g clip-path="url(#c22)">
<polygon points="668.3,1404.2 759.9,1404.2 742.9,1424.6 685.3,1424.6" fill="url(#bev)"/>
<polygon points="678.3,1499.2 749.9,1499.2 759.9,1509.2 668.3,1509.2" fill="url(#bevb)"/>
<rect x="672.3" y="1404.6" width="83.6" height="104.6" fill="url(#p22)"/>
</g>
<rect x="669.9" y="1403" width="88.4" height="106.2" fill="none" stroke="#000" stroke-width="3.2"/>
<rect x="755.1" y="1344.8" width="87.5" height="164.4" fill="#fff"/>
<rect x="758.1" y="1347.8" width="81.5" height="161.4" fill="url(#p23)"/>
<polygon points="769.1,1499.2 828.6,1499.2 838.6,1509.2 759.1,1509.2" fill="url(#ishb)"/><rect x="832.6" y="1352.8" width="6" height="156.4" fill="url(#ishr)"/><rect x="759.6" y="1352.8" width="5" height="156.4" fill="url(#ishl)"/>
<rect x="757.5" y="1347.2" width="82.7" height="162" fill="none" stroke="#000" stroke-width="4.8"/>
<rect x="837.8" y="1140.8" width="92.6" height="368.4" fill="#fff"/>
<rect x="840.8" y="1143.8" width="86.6" height="365.4" fill="url(#p24)"/>
<polygon points="851.8,1499.2 916.4,1499.2 926.4,1509.2 841.8,1509.2" fill="url(#ishb)"/><rect x="920.4" y="1148.8" width="6" height="360.4" fill="url(#ishr)"/><rect x="842.3" y="1148.8" width="5" height="360.4" fill="url(#ishl)"/>
<rect x="840.2" y="1143.2" width="87.8" height="366" fill="none" stroke="#000" stroke-width="4.8"/>
<rect x="1010" y="1399.2" width="89" height="110" fill="#070707"/>
<clipPath id="c25"><rect x="1010" y="1399.2" width="89" height="110"/></clipPath>
<g clip-path="url(#c25)">
<polygon points="1010,1401.8 1099,1401.8 1082,1422.2 1027,1422.2" fill="url(#bev)"/>
<polygon points="1020,1499.2 1089,1499.2 1099,1509.2 1010,1509.2" fill="url(#bevb)"/>
<rect x="1014" y="1402.2" width="81" height="107" fill="url(#p25)"/>
</g>
<rect x="1011.6" y="1400.6" width="85.8" height="108.6" fill="none" stroke="#000" stroke-width="3.2"/>
<rect x="1094.2" y="1318.5" width="90.2" height="190.7" fill="#fff"/>
<rect x="1097.2" y="1321.5" width="84.2" height="187.7" fill="url(#p26)"/>
<polygon points="1108.2,1499.2 1170.4,1499.2 1180.4,1509.2 1098.2,1509.2" fill="url(#ishb)"/><rect x="1174.4" y="1326.5" width="6" height="182.7" fill="url(#ishr)"/><rect x="1098.7" y="1326.5" width="5" height="182.7" fill="url(#ishl)"/>
<rect x="1096.6" y="1320.9" width="85.4" height="188.3" fill="none" stroke="#000" stroke-width="4.8"/>
<rect x="1179.6" y="1354.6" width="89.8" height="154.6" fill="#fff"/>
<rect x="1182.6" y="1357.6" width="83.8" height="151.6" fill="url(#p27)"/>
<polygon points="1193.6,1499.2 1255.4,1499.2 1265.4,1509.2 1183.6,1509.2" fill="url(#ishb)"/><rect x="1259.4" y="1362.6" width="6" height="146.6" fill="url(#ishr)"/><rect x="1184.1" y="1362.6" width="5" height="146.6" fill="url(#ishl)"/>
<rect x="1182" y="1357" width="85" height="152.2" fill="none" stroke="#000" stroke-width="4.8"/>
<rect x="1350" y="1399.2" width="91.6" height="110" fill="#070707"/>
<clipPath id="c28"><rect x="1350" y="1399.2" width="91.6" height="110"/></clipPath>
<g clip-path="url(#c28)">
<polygon points="1350,1401.8 1441.6,1401.8 1424.6,1422.2 1367,1422.2" fill="url(#bev)"/>
<polygon points="1360,1499.2 1431.6,1499.2 1441.6,1509.2 1350,1509.2" fill="url(#bevb)"/>
<rect x="1354" y="1402.2" width="83.6" height="107" fill="url(#p28)"/>
</g>
<rect x="1351.6" y="1400.6" width="88.4" height="108.6" fill="none" stroke="#000" stroke-width="3.2"/>
<rect x="1436.8" y="1344.3" width="89.6" height="164.9" fill="#fff"/>
<rect x="1439.8" y="1347.3" width="83.6" height="161.9" fill="url(#p29)"/>
<polygon points="1450.8,1499.2 1512.4,1499.2 1522.4,1509.2 1440.8,1509.2" fill="url(#ishb)"/><rect x="1516.4" y="1352.3" width="6" height="156.9" fill="url(#ishr)"/><rect x="1441.3" y="1352.3" width="5" height="156.9" fill="url(#ishl)"/>
<rect x="1439.2" y="1346.7" width="84.8" height="162.5" fill="none" stroke="#000" stroke-width="4.8"/>
<rect x="1521.6" y="1432.7" width="90.4" height="76.5" fill="#fff"/>
<rect x="1524.6" y="1435.7" width="84.4" height="73.5" fill="url(#p30)"/>
<polygon points="1535.6,1499.2 1598,1499.2 1608,1509.2 1525.6,1509.2" fill="url(#ishb)"/><rect x="1602" y="1440.7" width="6" height="68.5" fill="url(#ishr)"/><rect x="1526.1" y="1440.7" width="5" height="68.5" fill="url(#ishl)"/>
<rect x="1524" y="1435.1" width="85.6" height="74.1" fill="none" stroke="#000" stroke-width="4.8"/>
<rect x="1690.9" y="1399.2" width="93.3" height="110" fill="#070707"/>
<clipPath id="c31"><rect x="1690.9" y="1399.2" width="93.3" height="110"/></clipPath>
<g clip-path="url(#c31)">
<polygon points="1690.9,1401.8 1784.2,1401.8 1767.2,1422.2 1707.9,1422.2" fill="url(#bev)"/>
<polygon points="1700.9,1499.2 1774.2,1499.2 1784.2,1509.2 1690.9,1509.2" fill="url(#bevb)"/>
<rect x="1694.9" y="1402.2" width="85.3" height="107" fill="url(#p31)"/>
</g>
<rect x="1692.5" y="1400.6" width="90.1" height="108.6" fill="none" stroke="#000" stroke-width="3.2"/>
<rect x="1779.4" y="1396.7" width="87.4" height="112.5" fill="#fff"/>
<rect x="1782.4" y="1399.7" width="81.4" height="109.5" fill="url(#p32)"/>
<polygon points="1793.4,1499.2 1852.8,1499.2 1862.8,1509.2 1783.4,1509.2" fill="url(#ishb)"/><rect x="1856.8" y="1404.7" width="6" height="104.5" fill="url(#ishr)"/><rect x="1783.9" y="1404.7" width="5" height="104.5" fill="url(#ishl)"/>
<rect x="1781.8" y="1399.1" width="82.6" height="110.1" fill="none" stroke="#000" stroke-width="4.8"/>
<rect x="1862" y="1401.8" width="91.7" height="107.4" fill="#fff"/>
<rect x="1865" y="1404.8" width="85.7" height="104.4" fill="url(#p33)"/>
<polygon points="1876,1499.2 1939.7,1499.2 1949.7,1509.2 1866,1509.2" fill="url(#ishb)"/><rect x="1943.7" y="1409.8" width="6" height="99.4" fill="url(#ishr)"/><rect x="1866.5" y="1409.8" width="5" height="99.4" fill="url(#ishl)"/>
<rect x="1864.4" y="1404.2" width="86.9" height="105" fill="none" stroke="#000" stroke-width="4.8"/>
<rect x="2032.6" y="1399.2" width="94.2" height="110" fill="#070707"/>
<clipPath id="c34"><rect x="2032.6" y="1399.2" width="94.2" height="110"/></clipPath>
<g clip-path="url(#c34)">
<polygon points="2032.6,1401.8 2126.8,1401.8 2109.8,1422.2 2049.6,1422.2" fill="url(#bev)"/>
<polygon points="2042.6,1499.2 2116.8,1499.2 2126.8,1509.2 2032.6,1509.2" fill="url(#bevb)"/>
<rect x="2036.6" y="1402.2" width="86.2" height="107" fill="url(#p34)"/>
</g>
<rect x="2034.2" y="1400.6" width="91" height="108.6" fill="none" stroke="#000" stroke-width="3.2"/>
<rect x="2122" y="1417.3" width="88.05" height="91.9" fill="#fff"/>
<rect x="2125" y="1420.3" width="82.05" height="88.9" fill="url(#p35)"/>
<polygon points="2136,1499.2 2196.05,1499.2 2206.05,1509.2 2126,1509.2" fill="url(#ishb)"/><rect x="2200.05" y="1425.3" width="6" height="83.9" fill="url(#ishr)"/><rect x="2126.5" y="1425.3" width="5" height="83.9" fill="url(#ishl)"/>
<rect x="2124.4" y="1419.7" width="83.25" height="89.5" fill="none" stroke="#000" stroke-width="4.8"/>
<rect x="2205.25" y="1444.8" width="88.45" height="64.4" fill="#fff"/>
<rect x="2208.25" y="1447.8" width="82.45" height="61.4" fill="url(#p36)"/>
<polygon points="2219.25,1499.2 2279.7,1499.2 2289.7,1509.2 2209.25,1509.2" fill="url(#ishb)"/><rect x="2283.7" y="1452.8" width="6" height="56.4" fill="url(#ishr)"/><rect x="2209.75" y="1452.8" width="5" height="56.4" fill="url(#ishl)"/>
<rect x="2207.65" y="1447.2" width="83.65" height="62" fill="none" stroke="#000" stroke-width="4.8"/>
<line x1="372.7" y1="1392.4" x2="372.7" y2="1411.4" stroke="#000" stroke-width="4.2"/>
<line x1="361.95" y1="1392.4" x2="383.45" y2="1392.4" stroke="#000" stroke-width="4.2"/>
<line x1="361.95" y1="1411.4" x2="383.45" y2="1411.4" stroke="#000" stroke-width="4.2"/>
<line x1="455.75" y1="1310.4" x2="455.75" y2="1331.3" stroke="#000" stroke-width="4.2"/>
<line x1="445" y1="1310.4" x2="466.5" y2="1310.4" stroke="#000" stroke-width="4.2"/>
<line x1="445" y1="1331.3" x2="466.5" y2="1331.3" stroke="#000" stroke-width="4.2"/>
<line x1="542.05" y1="1160.9" x2="542.05" y2="1199.6" stroke="#000" stroke-width="4.2"/>
<line x1="531.3" y1="1160.9" x2="552.8" y2="1160.9" stroke="#000" stroke-width="4.2"/>
<line x1="531.3" y1="1199.6" x2="552.8" y2="1199.6" stroke="#000" stroke-width="4.2"/>
<rect x="703.35" y="1400" width="21.5" height="6" fill="#000"/>
<line x1="798.85" y1="1337" x2="798.85" y2="1359.5" stroke="#000" stroke-width="4.2"/>
<line x1="788.1" y1="1337" x2="809.6" y2="1337" stroke="#000" stroke-width="4.2"/>
<line x1="788.1" y1="1359.5" x2="809.6" y2="1359.5" stroke="#000" stroke-width="4.2"/>
<line x1="884.1" y1="1126.4" x2="884.1" y2="1161.4" stroke="#000" stroke-width="4.2"/>
<line x1="873.35" y1="1126.4" x2="894.85" y2="1126.4" stroke="#000" stroke-width="4.2"/>
<line x1="873.35" y1="1161.4" x2="894.85" y2="1161.4" stroke="#000" stroke-width="4.2"/>
<line x1="1054.5" y1="1399.3" x2="1054.5" y2="1407.4" stroke="#000" stroke-width="4.2"/>
<line x1="1043.75" y1="1399.3" x2="1065.25" y2="1399.3" stroke="#000" stroke-width="4.2"/>
<line x1="1043.75" y1="1407.4" x2="1065.25" y2="1407.4" stroke="#000" stroke-width="4.2"/>
<line x1="1139.3" y1="1318.9" x2="1139.3" y2="1325" stroke="#000" stroke-width="4.2"/>
<line x1="1128.55" y1="1318.9" x2="1150.05" y2="1318.9" stroke="#000" stroke-width="4.2"/>
<line x1="1128.55" y1="1325" x2="1150.05" y2="1325" stroke="#000" stroke-width="4.2"/>
<line x1="1224.5" y1="1339.5" x2="1224.5" y2="1376.5" stroke="#000" stroke-width="4.2"/>
<line x1="1213.75" y1="1339.5" x2="1235.25" y2="1339.5" stroke="#000" stroke-width="4.2"/>
<line x1="1213.75" y1="1376.5" x2="1235.25" y2="1376.5" stroke="#000" stroke-width="4.2"/>
<line x1="1395.8" y1="1387.6" x2="1395.8" y2="1419.5" stroke="#000" stroke-width="4.2"/>
<line x1="1385.05" y1="1387.6" x2="1406.55" y2="1387.6" stroke="#000" stroke-width="4.2"/>
<line x1="1385.05" y1="1419.5" x2="1406.55" y2="1419.5" stroke="#000" stroke-width="4.2"/>
<line x1="1481.6" y1="1327.5" x2="1481.6" y2="1367.1" stroke="#000" stroke-width="4.2"/>
<line x1="1470.85" y1="1327.5" x2="1492.35" y2="1327.5" stroke="#000" stroke-width="4.2"/>
<line x1="1470.85" y1="1367.1" x2="1492.35" y2="1367.1" stroke="#000" stroke-width="4.2"/>
<line x1="1566.8" y1="1428" x2="1566.8" y2="1444.4" stroke="#000" stroke-width="4.2"/>
<line x1="1556.05" y1="1428" x2="1577.55" y2="1428" stroke="#000" stroke-width="4.2"/>
<line x1="1556.05" y1="1444.4" x2="1577.55" y2="1444.4" stroke="#000" stroke-width="4.2"/>
<rect x="1726.8" y="1401" width="21.5" height="7.7" fill="#000"/>
<rect x="1812.35" y="1396" width="21.5" height="6" fill="#000"/>
<line x1="1907.85" y1="1399.6" x2="1907.85" y2="1410.9" stroke="#000" stroke-width="4.2"/>
<line x1="1897.1" y1="1399.6" x2="1918.6" y2="1399.6" stroke="#000" stroke-width="4.2"/>
<line x1="1897.1" y1="1410.9" x2="1918.6" y2="1410.9" stroke="#000" stroke-width="4.2"/>
<line x1="2079.7" y1="1387.6" x2="2079.7" y2="1419.5" stroke="#000" stroke-width="4.2"/>
<line x1="2068.95" y1="1387.6" x2="2090.45" y2="1387.6" stroke="#000" stroke-width="4.2"/>
<line x1="2068.95" y1="1419.5" x2="2090.45" y2="1419.5" stroke="#000" stroke-width="4.2"/>
<line x1="2166.03" y1="1416.8" x2="2166.03" y2="1421.2" stroke="#000" stroke-width="4.2"/>
<line x1="2155.28" y1="1416.8" x2="2176.78" y2="1416.8" stroke="#000" stroke-width="4.2"/>
<line x1="2155.28" y1="1421.2" x2="2176.78" y2="1421.2" stroke="#000" stroke-width="4.2"/>
<line x1="2249.47" y1="1433.1" x2="2249.47" y2="1462.4" stroke="#000" stroke-width="4.2"/>
<line x1="2238.72" y1="1433.1" x2="2260.22" y2="1433.1" stroke="#000" stroke-width="4.2"/>
<line x1="2238.72" y1="1462.4" x2="2260.22" y2="1462.4" stroke="#000" stroke-width="4.2"/>
<line x1="331.2" y1="976.9" x2="331.2" y2="1511.2" stroke="#000" stroke-width="4"/>
<line x1="329.2" y1="1509.2" x2="2293.7" y2="1509.2" stroke="#000" stroke-width="4.4"/>
<line x1="314.2" y1="1509.4" x2="331.2" y2="1509.4" stroke="#000" stroke-width="4"/>
<text x="257.67" y="1524.1" font-size="57" font-weight="bold">0</text>
<line x1="314.2" y1="1403.3" x2="331.2" y2="1403.3" stroke="#000" stroke-width="4"/>
<text x="258.45" y="1415.6" font-size="57" font-weight="bold">1</text>
<line x1="314.2" y1="1297.2" x2="331.2" y2="1297.2" stroke="#000" stroke-width="4"/>
<text x="257.95" y="1309.5" font-size="57" font-weight="bold">2</text>
<line x1="314.2" y1="1191.1" x2="331.2" y2="1191.1" stroke="#000" stroke-width="4"/>
<text x="257.45" y="1203.4" font-size="57" font-weight="bold">3</text>
<line x1="314.2" y1="1085" x2="331.2" y2="1085" stroke="#000" stroke-width="4"/>
<text x="256.56" y="1097.3" font-size="57" font-weight="bold">4</text>
<line x1="314.2" y1="978.9" x2="331.2" y2="978.9" stroke="#000" stroke-width="4"/>
<text x="257.59" y="991.2" font-size="57" font-weight="bold">5</text>
<text x="359.04" y="1352.2" font-size="54" font-weight="bold">a</text>
<text x="444.74" y="1271" font-size="54" font-weight="bold">b</text>
<text x="531.57" y="1104.6" font-size="54" font-weight="bold">c</text>
<text x="700.64" y="1342.2" font-size="54" font-weight="bold">a</text>
<text x="785.14" y="1297.8" font-size="54" font-weight="bold">b</text>
<text x="871.77" y="1054.5" font-size="54" font-weight="bold">c</text>
<text x="1040.74" y="1350.7" font-size="54" font-weight="bold">a</text>
<text x="1125.94" y="1269.9" font-size="54" font-weight="bold">b</text>
<text x="1210.94" y="1306" font-size="54" font-weight="bold">b</text>
<text x="1382.04" y="1350.7" font-size="54" font-weight="bold">a</text>
<text x="1465.74" y="1283.7" font-size="54" font-weight="bold">b</text>
<text x="1553.04" y="1375.6" font-size="54" font-weight="bold">a</text>
<text x="1723.74" y="1368.7" font-size="54" font-weight="bold">a</text>
<text x="1809.24" y="1363.5" font-size="54" font-weight="bold">a</text>
<text x="1894.64" y="1368.7" font-size="54" font-weight="bold">a</text>
<text x="2063.44" y="1341.2" font-size="54" font-weight="bold">b</text>
<text x="2134.81" y="1368.7" font-size="54" font-weight="bold">ab</text>
<text x="2231.64" y="1391" font-size="54" font-weight="bold">a</text>
<text x="430.28" y="1590.4" font-size="59.5" font-weight="normal">6 h</text>
<text x="754.41" y="1588" font-size="59.5" font-weight="normal">12 h</text>
<text x="1102.11" y="1595.2" font-size="59.5" font-weight="normal">1 d</text>
<text x="1442.92" y="1589" font-size="59.5" font-weight="normal">2 d</text>
<text x="1782.65" y="1589" font-size="59.5" font-weight="normal">3 d</text>
<text x="2098.61" y="1593.8" font-size="59.5" font-weight="normal">7 d</text>
<text x="1249.11" y="1670" font-size="55.7" font-weight="bold">Time</text>
<text x="86.35" y="925.5" font-size="60.3" font-weight="bold" font-style="normal">(B) Spleen</text>
<text transform="translate(113.7,1598.5) rotate(-90)" x="0" y="0" font-size="55.3" font-weight="bold">Relative expression ratio</text>
<text transform="translate(174,1576.7) rotate(-90)" x="0" y="0" font-size="55.3" font-weight="bold">(<tspan font-style="italic">On</tspan>-DnaJ C3a/β-actin)</text>
<g filter="url(#shf)" opacity="0.2">
<rect x="303.6" y="2277.2" width="93.5" height="42.5" fill="#000"/>
<rect x="390.3" y="2275.5" width="89.1" height="44.2" fill="#000"/>
<rect x="472.6" y="2263.5" width="96.7" height="56.2" fill="#000"/>
<rect x="647.3" y="2278.3" width="93.6" height="41.4" fill="#000"/>
<rect x="734.1" y="2182.8" width="92.1" height="136.9" fill="#000"/>
<rect x="819.4" y="1941.6" width="94.6" height="378.1" fill="#000"/>
<rect x="992.2" y="2278.1" width="94.6" height="41.6" fill="#000"/>
<rect x="1080" y="2118.1" width="90.2" height="201.6" fill="#000"/>
<rect x="1163.4" y="2039.6" width="95.4" height="280.1" fill="#000"/>
<rect x="1338.5" y="2278.8" width="93.3" height="40.9" fill="#000"/>
<rect x="1425" y="2198.9" width="91.4" height="120.8" fill="#000"/>
<rect x="1509.6" y="2253.9" width="95.4" height="65.8" fill="#000"/>
<rect x="1682.8" y="2278.8" width="95.3" height="40.9" fill="#000"/>
<rect x="1771.3" y="2278.8" width="93.1" height="40.9" fill="#000"/>
<rect x="1857.6" y="2303.7" width="92.6" height="16" fill="#000"/>
<rect x="2027.1" y="2278.8" width="99.1" height="40.9" fill="#000"/>
<rect x="2119.4" y="2283.9" width="89.5" height="35.8" fill="#000"/>
<rect x="2202.1" y="2303.7" width="92.4" height="16" fill="#000"/>
</g>
<rect x="304.6" y="2270.2" width="91.5" height="46.5" fill="#070707"/>
<clipPath id="c37"><rect x="304.6" y="2270.2" width="91.5" height="46.5"/></clipPath>
<g clip-path="url(#c37)">
<polygon points="304.6,2272.8 396.1,2272.8 379.1,2293.2 321.6,2293.2" fill="url(#bev)"/>
<polygon points="314.6,2306.7 386.1,2306.7 396.1,2316.7 304.6,2316.7" fill="url(#bevb)"/>
<rect x="308.6" y="2273.2" width="83.5" height="43.5" fill="url(#p37)"/>
</g>
<rect x="306.2" y="2271.6" width="88.3" height="45.1" fill="none" stroke="#000" stroke-width="3.2"/>
<rect x="391.3" y="2268.5" width="87.1" height="48.2" fill="#fff"/>
<rect x="394.3" y="2271.5" width="81.1" height="45.2" fill="url(#p38)"/>
<polygon points="405.3,2306.7 464.4,2306.7 474.4,2316.7 395.3,2316.7" fill="url(#ishb)"/><rect x="468.4" y="2276.5" width="6" height="40.2" fill="url(#ishr)"/><rect x="395.8" y="2276.5" width="5" height="40.2" fill="url(#ishl)"/>
<rect x="393.7" y="2270.9" width="82.3" height="45.8" fill="none" stroke="#000" stroke-width="4.8"/>
<rect x="473.6" y="2256.5" width="94.7" height="60.2" fill="#fff"/>
<rect x="476.6" y="2259.5" width="88.7" height="57.2" fill="url(#p39)"/>
<polygon points="487.6,2306.7 554.3,2306.7 564.3,2316.7 477.6,2316.7" fill="url(#ishb)"/><rect x="558.3" y="2264.5" width="6" height="52.2" fill="url(#ishr)"/><rect x="478.1" y="2264.5" width="5" height="52.2" fill="url(#ishl)"/>
<rect x="476" y="2258.9" width="89.9" height="57.8" fill="none" stroke="#000" stroke-width="4.8"/>
<rect x="648.3" y="2271.3" width="91.6" height="45.4" fill="#070707"/>
<clipPath id="c40"><rect x="648.3" y="2271.3" width="91.6" height="45.4"/></clipPath>
<g clip-path="url(#c40)">
<polygon points="648.3,2273.9 739.9,2273.9 722.9,2294.3 665.3,2294.3" fill="url(#bev)"/>
<polygon points="658.3,2306.7 729.9,2306.7 739.9,2316.7 648.3,2316.7" fill="url(#bevb)"/>
<rect x="652.3" y="2274.3" width="83.6" height="42.4" fill="url(#p40)"/>
</g>
<rect x="649.9" y="2272.7" width="88.4" height="44" fill="none" stroke="#000" stroke-width="3.2"/>
<rect x="735.1" y="2175.8" width="90.1" height="140.9" fill="#fff"/>
<rect x="738.1" y="2178.8" width="84.1" height="137.9" fill="url(#p41)"/>
<polygon points="749.1,2306.7 811.2,2306.7 821.2,2316.7 739.1,2316.7" fill="url(#ishb)"/><rect x="815.2" y="2183.8" width="6" height="132.9" fill="url(#ishr)"/><rect x="739.6" y="2183.8" width="5" height="132.9" fill="url(#ishl)"/>
<rect x="737.5" y="2178.2" width="85.3" height="138.5" fill="none" stroke="#000" stroke-width="4.8"/>
<rect x="820.4" y="1934.6" width="92.6" height="382.1" fill="#fff"/>
<rect x="823.4" y="1937.6" width="86.6" height="379.1" fill="url(#p42)"/>
<polygon points="834.4,2306.7 899,2306.7 909,2316.7 824.4,2316.7" fill="url(#ishb)"/><rect x="903" y="1942.6" width="6" height="374.1" fill="url(#ishr)"/><rect x="824.9" y="1942.6" width="5" height="374.1" fill="url(#ishl)"/>
<rect x="822.8" y="1937" width="87.8" height="379.7" fill="none" stroke="#000" stroke-width="4.8"/>
<rect x="993.2" y="2271.1" width="92.6" height="45.6" fill="#070707"/>
<clipPath id="c43"><rect x="993.2" y="2271.1" width="92.6" height="45.6"/></clipPath>
<g clip-path="url(#c43)">
<polygon points="993.2,2273.7 1085.8,2273.7 1068.8,2294.1 1010.2,2294.1" fill="url(#bev)"/>
<polygon points="1003.2,2306.7 1075.8,2306.7 1085.8,2316.7 993.2,2316.7" fill="url(#bevb)"/>
<rect x="997.2" y="2274.1" width="84.6" height="42.6" fill="url(#p43)"/>
</g>
<rect x="994.8" y="2272.5" width="89.4" height="44.2" fill="none" stroke="#000" stroke-width="3.2"/>
<rect x="1081" y="2111.1" width="88.2" height="205.6" fill="#fff"/>
<rect x="1084" y="2114.1" width="82.2" height="202.6" fill="url(#p44)"/>
<polygon points="1095,2306.7 1155.2,2306.7 1165.2,2316.7 1085,2316.7" fill="url(#ishb)"/><rect x="1159.2" y="2119.1" width="6" height="197.6" fill="url(#ishr)"/><rect x="1085.5" y="2119.1" width="5" height="197.6" fill="url(#ishl)"/>
<rect x="1083.4" y="2113.5" width="83.4" height="203.2" fill="none" stroke="#000" stroke-width="4.8"/>
<rect x="1164.4" y="2032.6" width="93.4" height="284.1" fill="#fff"/>
<rect x="1167.4" y="2035.6" width="87.4" height="281.1" fill="url(#p45)"/>
<polygon points="1178.4,2306.7 1243.8,2306.7 1253.8,2316.7 1168.4,2316.7" fill="url(#ishb)"/><rect x="1247.8" y="2040.6" width="6" height="276.1" fill="url(#ishr)"/><rect x="1168.9" y="2040.6" width="5" height="276.1" fill="url(#ishl)"/>
<rect x="1166.8" y="2035" width="88.6" height="281.7" fill="none" stroke="#000" stroke-width="4.8"/>
<rect x="1339.5" y="2271.8" width="91.3" height="44.9" fill="#070707"/>
<clipPath id="c46"><rect x="1339.5" y="2271.8" width="91.3" height="44.9"/></clipPath>
<g clip-path="url(#c46)">
<polygon points="1339.5,2274.4 1430.8,2274.4 1413.8,2294.8 1356.5,2294.8" fill="url(#bev)"/>
<polygon points="1349.5,2306.7 1420.8,2306.7 1430.8,2316.7 1339.5,2316.7" fill="url(#bevb)"/>
<rect x="1343.5" y="2274.8" width="83.3" height="41.9" fill="url(#p46)"/>
</g>
<rect x="1341.1" y="2273.2" width="88.1" height="43.5" fill="none" stroke="#000" stroke-width="3.2"/>
<rect x="1426" y="2191.9" width="89.4" height="124.8" fill="#fff"/>
<rect x="1429" y="2194.9" width="83.4" height="121.8" fill="url(#p47)"/>
<polygon points="1440,2306.7 1501.4,2306.7 1511.4,2316.7 1430,2316.7" fill="url(#ishb)"/><rect x="1505.4" y="2199.9" width="6" height="116.8" fill="url(#ishr)"/><rect x="1430.5" y="2199.9" width="5" height="116.8" fill="url(#ishl)"/>
<rect x="1428.4" y="2194.3" width="84.6" height="122.4" fill="none" stroke="#000" stroke-width="4.8"/>
<rect x="1510.6" y="2246.9" width="93.4" height="69.8" fill="#fff"/>
<rect x="1513.6" y="2249.9" width="87.4" height="66.8" fill="url(#p48)"/>
<polygon points="1524.6,2306.7 1590,2306.7 1600,2316.7 1514.6,2316.7" fill="url(#ishb)"/><rect x="1594" y="2254.9" width="6" height="61.8" fill="url(#ishr)"/><rect x="1515.1" y="2254.9" width="5" height="61.8" fill="url(#ishl)"/>
<rect x="1513" y="2249.3" width="88.6" height="67.4" fill="none" stroke="#000" stroke-width="4.8"/>
<rect x="1683.8" y="2271.8" width="93.3" height="44.9" fill="#070707"/>
<clipPath id="c49"><rect x="1683.8" y="2271.8" width="93.3" height="44.9"/></clipPath>
<g clip-path="url(#c49)">
<polygon points="1683.8,2274.4 1777.1,2274.4 1760.1,2294.8 1700.8,2294.8" fill="url(#bev)"/>
<polygon points="1693.8,2306.7 1767.1,2306.7 1777.1,2316.7 1683.8,2316.7" fill="url(#bevb)"/>
<rect x="1687.8" y="2274.8" width="85.3" height="41.9" fill="url(#p49)"/>
</g>
<rect x="1685.4" y="2273.2" width="90.1" height="43.5" fill="none" stroke="#000" stroke-width="3.2"/>
<rect x="1772.3" y="2271.8" width="91.1" height="44.9" fill="#fff"/>
<rect x="1775.3" y="2274.8" width="85.1" height="41.9" fill="url(#p50)"/>
<polygon points="1786.3,2306.7 1849.4,2306.7 1859.4,2316.7 1776.3,2316.7" fill="url(#ishb)"/><rect x="1853.4" y="2279.8" width="6" height="36.9" fill="url(#ishr)"/><rect x="1776.8" y="2279.8" width="5" height="36.9" fill="url(#ishl)"/>
<rect x="1774.7" y="2274.2" width="86.3" height="42.5" fill="none" stroke="#000" stroke-width="4.8"/>
<rect x="1858.6" y="2296.7" width="90.6" height="20" fill="#fff"/>
<rect x="1861.6" y="2299.7" width="84.6" height="17" fill="url(#p51)"/>
<polygon points="1872.6,2306.7 1935.2,2306.7 1945.2,2316.7 1862.6,2316.7" fill="url(#ishb)"/><rect x="1939.2" y="2304.7" width="6" height="12" fill="url(#ishr)"/><rect x="1863.1" y="2304.7" width="5" height="12" fill="url(#ishl)"/>
<rect x="1861" y="2299.1" width="85.8" height="17.6" fill="none" stroke="#000" stroke-width="4.8"/>
<rect x="2028.1" y="2271.8" width="97.1" height="44.9" fill="#070707"/>
<clipPath id="c52"><rect x="2028.1" y="2271.8" width="97.1" height="44.9"/></clipPath>
<g clip-path="url(#c52)">
<polygon points="2028.1,2274.4 2125.2,2274.4 2108.2,2294.8 2045.1,2294.8" fill="url(#bev)"/>
<polygon points="2038.1,2306.7 2115.2,2306.7 2125.2,2316.7 2028.1,2316.7" fill="url(#bevb)"/>
<rect x="2032.1" y="2274.8" width="89.1" height="41.9" fill="url(#p52)"/>
</g>
<rect x="2029.7" y="2273.2" width="93.9" height="43.5" fill="none" stroke="#000" stroke-width="3.2"/>
<rect x="2120.4" y="2276.9" width="87.5" height="39.8" fill="#fff"/>
<rect x="2123.4" y="2279.9" width="81.5" height="36.8" fill="url(#p53)"/>
<polygon points="2134.4,2306.7 2193.9,2306.7 2203.9,2316.7 2124.4,2316.7" fill="url(#ishb)"/><rect x="2197.9" y="2284.9" width="6" height="31.8" fill="url(#ishr)"/><rect x="2124.9" y="2284.9" width="5" height="31.8" fill="url(#ishl)"/>
<rect x="2122.8" y="2279.3" width="82.7" height="37.4" fill="none" stroke="#000" stroke-width="4.8"/>
<rect x="2203.1" y="2296.7" width="90.4" height="20" fill="#fff"/>
<rect x="2206.1" y="2299.7" width="84.4" height="17" fill="url(#p54)"/>
<polygon points="2217.1,2306.7 2279.5,2306.7 2289.5,2316.7 2207.1,2316.7" fill="url(#ishb)"/><rect x="2283.5" y="2304.7" width="6" height="12" fill="url(#ishr)"/><rect x="2207.6" y="2304.7" width="5" height="12" fill="url(#ishl)"/>
<rect x="2205.5" y="2299.1" width="85.6" height="17.6" fill="none" stroke="#000" stroke-width="4.8"/>
<line x1="350.35" y1="2270.6" x2="350.35" y2="2277.6" stroke="#000" stroke-width="4.2"/>
<line x1="339.6" y1="2270.6" x2="361.1" y2="2270.6" stroke="#000" stroke-width="4.2"/>
<line x1="339.6" y1="2277.6" x2="361.1" y2="2277.6" stroke="#000" stroke-width="4.2"/>
<rect x="424.1" y="2272" width="21.5" height="6" fill="#000"/>
<rect x="510.2" y="2256.5" width="21.5" height="7.7" fill="#000"/>
<rect x="683.35" y="2270" width="21.5" height="6" fill="#000"/>
<line x1="780.15" y1="2175.3" x2="780.15" y2="2180.3" stroke="#000" stroke-width="4.2"/>
<line x1="769.4" y1="2175.3" x2="790.9" y2="2175.3" stroke="#000" stroke-width="4.2"/>
<line x1="769.4" y1="2180.3" x2="790.9" y2="2180.3" stroke="#000" stroke-width="4.2"/>
<line x1="866.7" y1="1926.8" x2="866.7" y2="1946.1" stroke="#000" stroke-width="4.2"/>
<line x1="855.95" y1="1926.8" x2="877.45" y2="1926.8" stroke="#000" stroke-width="4.2"/>
<line x1="855.95" y1="1946.1" x2="877.45" y2="1946.1" stroke="#000" stroke-width="4.2"/>
<rect x="1028.75" y="2270" width="21.5" height="6" fill="#000"/>
<line x1="1125.1" y1="2111.1" x2="1125.1" y2="2119" stroke="#000" stroke-width="4.2"/>
<line x1="1114.35" y1="2111.1" x2="1135.85" y2="2111.1" stroke="#000" stroke-width="4.2"/>
<line x1="1114.35" y1="2119" x2="1135.85" y2="2119" stroke="#000" stroke-width="4.2"/>
<line x1="1211.1" y1="2029.6" x2="1211.1" y2="2041.5" stroke="#000" stroke-width="4.2"/>
<line x1="1200.35" y1="2029.6" x2="1221.85" y2="2029.6" stroke="#000" stroke-width="4.2"/>
<line x1="1200.35" y1="2041.5" x2="1221.85" y2="2041.5" stroke="#000" stroke-width="4.2"/>
<line x1="1385.15" y1="2272.1" x2="1385.15" y2="2276.5" stroke="#000" stroke-width="4.2"/>
<line x1="1374.4" y1="2272.1" x2="1395.9" y2="2272.1" stroke="#000" stroke-width="4.2"/>
<line x1="1374.4" y1="2276.5" x2="1395.9" y2="2276.5" stroke="#000" stroke-width="4.2"/>
<line x1="1470.7" y1="2191.4" x2="1470.7" y2="2197.5" stroke="#000" stroke-width="4.2"/>
<line x1="1459.95" y1="2191.4" x2="1481.45" y2="2191.4" stroke="#000" stroke-width="4.2"/>
<line x1="1459.95" y1="2197.5" x2="1481.45" y2="2197.5" stroke="#000" stroke-width="4.2"/>
<line x1="1557.3" y1="2246.4" x2="1557.3" y2="2251.6" stroke="#000" stroke-width="4.2"/>
<line x1="1546.55" y1="2246.4" x2="1568.05" y2="2246.4" stroke="#000" stroke-width="4.2"/>
<line x1="1546.55" y1="2251.6" x2="1568.05" y2="2251.6" stroke="#000" stroke-width="4.2"/>
<line x1="1730.45" y1="2268.7" x2="1730.45" y2="2279.9" stroke="#000" stroke-width="4.2"/>
<line x1="1719.7" y1="2268.7" x2="1741.2" y2="2268.7" stroke="#000" stroke-width="4.2"/>
<line x1="1719.7" y1="2279.9" x2="1741.2" y2="2279.9" stroke="#000" stroke-width="4.2"/>
<rect x="1807.1" y="2271.8" width="21.5" height="5.2" fill="#000"/>
<rect x="1893.15" y="2297" width="21.5" height="3" fill="#000"/>
<rect x="2065.9" y="2271.8" width="21.5" height="7.7" fill="#000"/>
<rect x="2153.4" y="2277" width="21.5" height="5" fill="#000"/>
<rect x="2237.55" y="2297" width="21.5" height="5" fill="#000"/>
<line x1="305.7" y1="1816.26" x2="305.7" y2="2318.7" stroke="#000" stroke-width="4"/>
<line x1="303.7" y1="2316.7" x2="2293.5" y2="2316.7" stroke="#000" stroke-width="4.4"/>
<line x1="291.5" y1="2316.5" x2="305.7" y2="2316.5" stroke="#000" stroke-width="4"/>
<text x="232.87" y="2328.6" font-size="57" font-weight="bold">0</text>
<line x1="291.5" y1="2233.46" x2="305.7" y2="2233.46" stroke="#000" stroke-width="4"/>
<text x="233.15" y="2245.56" font-size="57" font-weight="bold">2</text>
<line x1="291.5" y1="2150.42" x2="305.7" y2="2150.42" stroke="#000" stroke-width="4"/>
<text x="231.76" y="2162.52" font-size="57" font-weight="bold">4</text>
<line x1="291.5" y1="2067.38" x2="305.7" y2="2067.38" stroke="#000" stroke-width="4"/>
<text x="232.37" y="2079.48" font-size="57" font-weight="bold">6</text>
<line x1="291.5" y1="1984.34" x2="305.7" y2="1984.34" stroke="#000" stroke-width="4"/>
<text x="232.59" y="1996.44" font-size="57" font-weight="bold">8</text>
<line x1="291.5" y1="1901.3" x2="305.7" y2="1901.3" stroke="#000" stroke-width="4"/>
<text x="204.37" y="1913.4" font-size="57" font-weight="bold">10</text>
<line x1="291.5" y1="1818.26" x2="305.7" y2="1818.26" stroke="#000" stroke-width="4"/>
<text x="204.65" y="1830.36" font-size="57" font-weight="bold">12</text>
<text x="335.24" y="2232.8" font-size="54" font-weight="bold">a</text>
<text x="413.04" y="2232.8" font-size="54" font-weight="bold">a</text>
<text x="508.04" y="2218.2" font-size="54" font-weight="bold">b</text>
<text x="680.64" y="2238.1" font-size="54" font-weight="bold">a</text>
<text x="767.04" y="2143.9" font-size="54" font-weight="bold">b</text>
<text x="855.77" y="1871.8" font-size="54" font-weight="bold">c</text>
<text x="1026.04" y="2238.4" font-size="54" font-weight="bold">a</text>
<text x="1110.74" y="2078.4" font-size="54" font-weight="bold">b</text>
<text x="1200.77" y="1992.8" font-size="54" font-weight="bold">c</text>
<text x="1371.94" y="2236.9" font-size="54" font-weight="bold">a</text>
<text x="1456.74" y="2157.9" font-size="54" font-weight="bold">b</text>
<text x="1544.97" y="2212.9" font-size="54" font-weight="bold">c</text>
<text x="1715.44" y="2236.1" font-size="54" font-weight="bold">b</text>
<text x="1802.24" y="2232.6" font-size="54" font-weight="bold">b</text>
<text x="1889.64" y="2262.7" font-size="54" font-weight="bold">a</text>
<text x="2061.44" y="2237.8" font-size="54" font-weight="bold">b</text>
<text x="2148.24" y="2237.8" font-size="54" font-weight="bold">b</text>
<text x="2235.34" y="2265.2" font-size="54" font-weight="bold">a</text>
<text x="400.63" y="2398.6" font-size="59.5" font-weight="normal">6 h</text>
<text x="724.26" y="2395.2" font-size="59.5" font-weight="normal">12 h</text>
<text x="1071.96" y="2403.4" font-size="59.5" font-weight="normal">1 d</text>
<text x="1413.37" y="2399.7" font-size="59.5" font-weight="normal">2 d</text>
<text x="1761.05" y="2396.1" font-size="59.5" font-weight="normal">3 d</text>
<text x="2110.41" y="2403.8" font-size="59.5" font-weight="normal">7 d</text>
<text x="1237.31" y="2476.4" font-size="55.7" font-weight="bold">Time</text>
<text x="49.25" y="1753" font-size="60.2" font-weight="bold" font-style="normal">(C) Head kidney</text>
<text transform="translate(102.3,2416) rotate(-90)" x="0" y="0" font-size="55.3" font-weight="bold">Relative expression ratio</text>
<text transform="translate(162,2396.5) rotate(-90)" x="0" y="0" font-size="55.3" font-weight="bold">(<tspan font-style="italic">On</tspan>-DnaJ C3a/β-actin)</text>
<rect x="1495.2" y="116.6" width="34.4" height="34.4" fill="#1c1c1c" stroke="#000" stroke-width="4.2"/>
<rect x="1495.2" y="232.6" width="34.4" height="34.5" fill="#f7f7f7" stroke="#000" stroke-width="4.2"/>
<rect x="1495.2" y="348.0" width="34.4" height="35.2" fill="url(#lg3)" stroke="#000" stroke-width="4.2"/>
<text x="1545.19" y="144.3" font-size="47.5" font-weight="bold" font-style="normal">0.85% NaCl</text>
<text x="1567.32" y="259.9" font-size="46" font-weight="bold">1 × 10<tspan font-size="30" dy="-18">7 </tspan><tspan dy="18">CFU/ml,</tspan><tspan dx="-4"> </tspan><tspan font-style="italic">S. agalactiae</tspan></text>
<text x="1567.32" y="373.3" font-size="46" font-weight="bold">1 × 10<tspan font-size="30" dy="-18">9 </tspan><tspan dy="18">CFU/ml,</tspan><tspan dx="-4"> </tspan><tspan font-style="italic">S. agalactiae</tspan></text>
</svg></body></html>
